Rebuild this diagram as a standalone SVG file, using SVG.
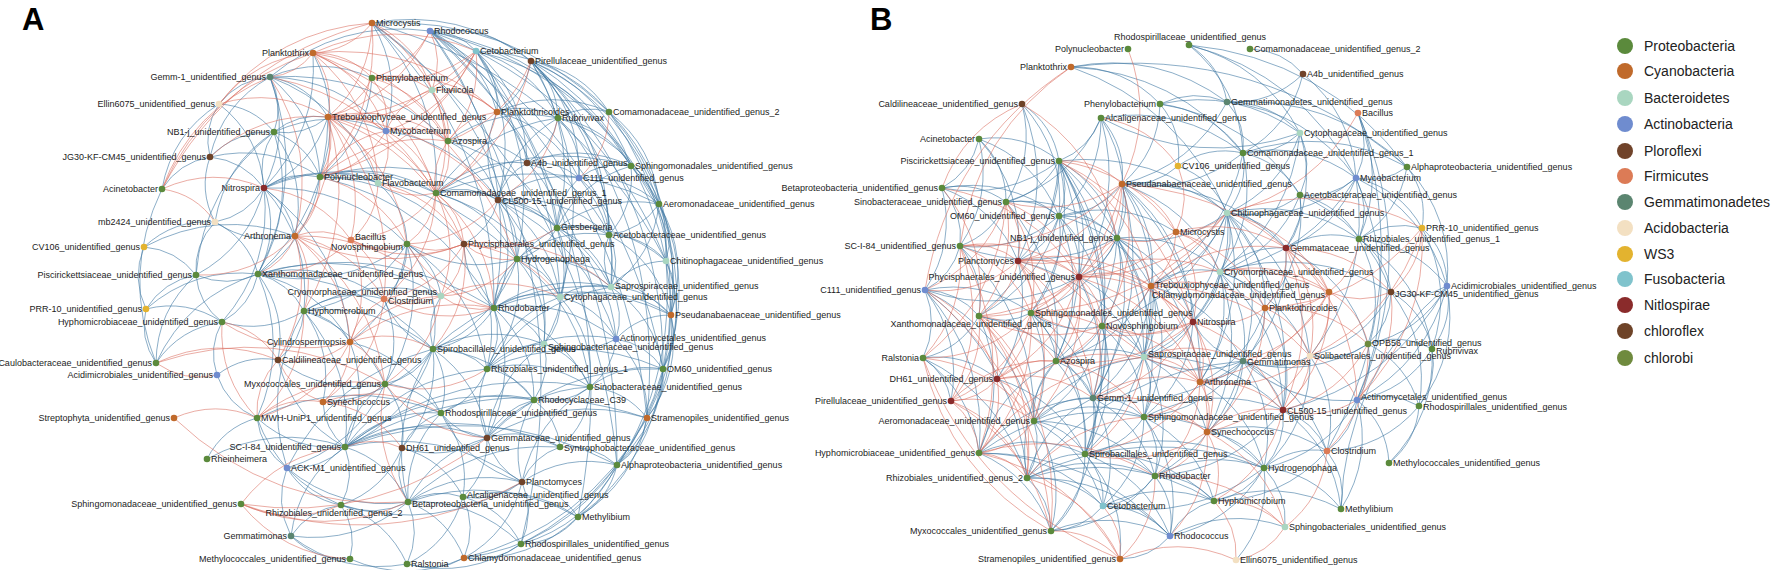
<svg xmlns="http://www.w3.org/2000/svg" width="1772" height="570" viewBox="0 0 1772 570">
<style>
text{font-family:"Liberation Sans",Arial,sans-serif;font-size:9px;fill:#1c1c1c}
.l{text-anchor:end}.m{text-anchor:middle}
.big{font-size:31px;font-weight:bold;fill:#000}
.leg text{font-size:14px;fill:#222}
.b{stroke:#3f78a3;stroke-opacity:.6;stroke-width:1}
.r{stroke:#d9685a;stroke-opacity:.55;stroke-width:1}
.pr{fill:#5b8a3c}.cy{fill:#c06a2b}.ba{fill:#a9d6c0}.ac{fill:#6f8ccf}.pl{fill:#70432a}.fi{fill:#dc7b56}.ge{fill:#5b8570}.aci{fill:#f3e0c2}.ws{fill:#e3b32f}.fu{fill:#80c3cc}.ni{fill:#8a2b2b}.ch{fill:#6e4328}.chb{fill:#6f8a3e}
</style>
<defs><path id="e" d="M0 0Q.5 -.22 1 0" fill="none" vector-effect="non-scaling-stroke"/></defs>
<rect width="1772" height="570" fill="#fff"/>
<text class="big" x="22" y="30">A</text>
<text class="big" x="870" y="30">B</text>
<g id="connectors">
<g id="edges-a-blue" class="b">
<use href="#e" transform="matrix(14 108 -108 14 372 23)"/><use href="#e" transform="matrix(64 170 -170 64 372 23)"/><use href="#e" transform="matrix(237 89 -89 237 372 23)"/><use href="#e" transform="matrix(122 285 -285 122 372 23)"/><use href="#e" transform="matrix(245 442 -442 245 372 23)"/><use href="#e" transform="matrix(145 236 -236 145 372 23)"/><use href="#e" transform="matrix(159 38 -38 159 372 23)"/><use href="#e" transform="matrix(294 238 -238 294 372 23)"/>
<use href="#e" transform="matrix(46 20 -20 46 430 31)"/><use href="#e" transform="matrix(101 30 -30 101 430 31)"/><use href="#e" transform="matrix(67 81 -81 67 430 31)"/><use href="#e" transform="matrix(201 135 -135 201 430 31)"/><use href="#e" transform="matrix(229 173 -173 229 430 31)"/><use href="#e" transform="matrix(236 230 -230 236 430 31)"/><use href="#e" transform="matrix(233 338 -338 233 430 31)"/><use href="#e" transform="matrix(217 387 -387 217 430 31)"/><use href="#e" transform="matrix(127 197 -197 127 430 31)"/><use href="#e" transform="matrix(64 277 -277 64 430 31)"/><use href="#e" transform="matrix(130 266 -266 130 430 31)"/><use href="#e" transform="matrix(187 434 -434 187 430 31)"/><use href="#e" transform="matrix(91 513 -513 91 430 31)"/>
<use href="#e" transform="matrix(160 -46 46 160 270 77)"/>
<use href="#e" transform="matrix(7 124 -124 7 313 53)"/><use href="#e" transform="matrix(-49 135 -135 -49 313 53)"/>
<use href="#e" transform="matrix(21 61 -61 21 476 51)"/><use href="#e" transform="matrix(82 67 -67 82 476 51)"/><use href="#e" transform="matrix(133 61 -61 133 476 51)"/><use href="#e" transform="matrix(51 112 -112 51 476 51)"/><use href="#e" transform="matrix(22 149 -149 22 476 51)"/><use href="#e" transform="matrix(155 115 -115 155 476 51)"/><use href="#e" transform="matrix(41 208 -208 41 476 51)"/><use href="#e" transform="matrix(102 466 -466 102 476 51)"/>
<use href="#e" transform="matrix(78 51 -51 78 531 61)"/><use href="#e" transform="matrix(27 57 -57 27 531 61)"/><use href="#e" transform="matrix(100 105 -105 100 531 61)"/><use href="#e" transform="matrix(128 143 -143 128 531 61)"/><use href="#e" transform="matrix(78 174 -174 78 531 61)"/><use href="#e" transform="matrix(135 200 -200 135 531 61)"/><use href="#e" transform="matrix(-34 51 -51 -34 531 61)"/><use href="#e" transform="matrix(48 117 -117 48 531 61)"/><use href="#e" transform="matrix(26 167 -167 26 531 61)"/><use href="#e" transform="matrix(80 226 -226 80 531 61)"/><use href="#e" transform="matrix(29 236 -236 29 531 61)"/><use href="#e" transform="matrix(116 357 -357 116 531 61)"/><use href="#e" transform="matrix(132 308 -308 132 531 61)"/>
<use href="#e" transform="matrix(4 55 -55 4 270 77)"/><use href="#e" transform="matrix(58 40 -40 58 270 77)"/><use href="#e" transform="matrix(50 100 -100 50 270 77)"/><use href="#e" transform="matrix(-6 111 -111 -6 270 77)"/><use href="#e" transform="matrix(116 54 -54 116 270 77)"/><use href="#e" transform="matrix(102 1 -1 102 270 77)"/><use href="#e" transform="matrix(108 106 -106 108 270 77)"/><use href="#e" transform="matrix(-12 197 -197 -12 270 77)"/><use href="#e" transform="matrix(178 64 -64 178 270 77)"/>
<use href="#e" transform="matrix(51 -27 27 51 219 104)"/><use href="#e" transform="matrix(60 -80 80 60 210 157)"/>
<use href="#e" transform="matrix(-64 71 -71 -64 328 117)"/><use href="#e" transform="matrix(-54 15 -15 -54 328 117)"/><use href="#e" transform="matrix(-70 157 -157 -70 328 117)"/>
<use href="#e" transform="matrix(10 -56 56 10 264 188)"/><use href="#e" transform="matrix(56 -11 11 56 264 188)"/><use href="#e" transform="matrix(-6 86 -86 -6 264 188)"/><use href="#e" transform="matrix(31 48 -48 31 264 188)"/><use href="#e" transform="matrix(40 123 -123 40 264 188)"/><use href="#e" transform="matrix(-42 134 -134 -42 264 188)"/><use href="#e" transform="matrix(-68 87 -87 -68 264 188)"/><use href="#e" transform="matrix(114 -5 5 114 264 188)"/><use href="#e" transform="matrix(172 5 -5 172 264 188)"/><use href="#e" transform="matrix(-49 34 -34 -49 264 188)"/><use href="#e" transform="matrix(86 154 -154 86 264 188)"/><use href="#e" transform="matrix(143 56 -56 143 264 188)"/>
<use href="#e" transform="matrix(54 31 -31 54 210 157)"/>
<use href="#e" transform="matrix(58 6 -6 58 320 177)"/><use href="#e" transform="matrix(116 16 -16 116 320 177)"/><use href="#e" transform="matrix(178 23 -23 178 320 177)"/><use href="#e" transform="matrix(144 67 -67 144 320 177)"/><use href="#e" transform="matrix(-62 97 -97 -62 320 177)"/><use href="#e" transform="matrix(174 131 -131 174 320 177)"/><use href="#e" transform="matrix(197 82 -82 197 320 177)"/>
<use href="#e" transform="matrix(62 7 -7 62 436 193)"/><use href="#e" transform="matrix(91 -30 30 91 436 193)"/><use href="#e" transform="matrix(121 35 -35 121 436 193)"/><use href="#e" transform="matrix(81 66 -66 81 436 193)"/><use href="#e" transform="matrix(195 -27 27 195 436 193)"/><use href="#e" transform="matrix(223 11 -11 223 436 193)"/><use href="#e" transform="matrix(124 104 -104 124 436 193)"/><use href="#e" transform="matrix(122 -75 75 122 436 193)"/>
<use href="#e" transform="matrix(29 -37 37 29 498 200)"/><use href="#e" transform="matrix(81 -22 22 81 498 200)"/><use href="#e" transform="matrix(59 28 -28 59 498 200)"/><use href="#e" transform="matrix(111 35 -35 111 498 200)"/><use href="#e" transform="matrix(19 59 -59 19 498 200)"/><use href="#e" transform="matrix(-34 44 -44 -34 498 200)"/><use href="#e" transform="matrix(113 87 -87 113 498 200)"/><use href="#e" transform="matrix(-4 108 -108 -4 498 200)"/><use href="#e" transform="matrix(62 97 -97 62 498 200)"/><use href="#e" transform="matrix(46 144 -144 46 498 200)"/><use href="#e" transform="matrix(118 139 -139 118 498 200)"/><use href="#e" transform="matrix(60 -82 82 60 498 200)"/><use href="#e" transform="matrix(-1 -88 88 -1 498 200)"/>
<use href="#e" transform="matrix(66 -11 11 66 494 308)"/><use href="#e" transform="matrix(117 -21 21 117 494 308)"/><use href="#e" transform="matrix(50 36 -36 50 494 308)"/><use href="#e" transform="matrix(-7 61 -61 -7 494 308)"/><use href="#e" transform="matrix(-61 41 -41 -61 494 308)"/><use href="#e" transform="matrix(23 -49 49 23 494 308)"/><use href="#e" transform="matrix(-30 -64 64 -30 494 308)"/><use href="#e" transform="matrix(122 31 -31 122 494 308)"/><use href="#e" transform="matrix(177 7 -7 177 494 308)"/><use href="#e" transform="matrix(40 92 -92 40 494 308)"/><use href="#e" transform="matrix(96 79 -79 96 494 308)"/><use href="#e" transform="matrix(-7 130 -130 -7 494 308)"/><use href="#e" transform="matrix(63 -80 80 63 494 308)"/>
<use href="#e" transform="matrix(52 7 -7 52 557 228)"/><use href="#e" transform="matrix(54 59 -59 54 557 228)"/><use href="#e" transform="matrix(3 69 -69 3 557 228)"/><use href="#e" transform="matrix(102 -24 24 102 557 228)"/><use href="#e" transform="matrix(74 -62 62 74 557 228)"/><use href="#e" transform="matrix(22 -50 50 22 557 228)"/><use href="#e" transform="matrix(109 33 -33 109 557 228)"/><use href="#e" transform="matrix(-40 31 -31 -40 557 228)"/><use href="#e" transform="matrix(59 111 -111 59 557 228)"/><use href="#e" transform="matrix(-13 116 -116 -13 557 228)"/>
<use href="#e" transform="matrix(43 38 -38 43 517 259)"/><use href="#e" transform="matrix(94 28 -28 94 517 259)"/><use href="#e" transform="matrix(27 85 -85 27 517 259)"/><use href="#e" transform="matrix(-30 110 -110 -30 517 259)"/><use href="#e" transform="matrix(-84 90 -90 -84 517 259)"/><use href="#e" transform="matrix(92 -24 24 92 517 259)"/><use href="#e" transform="matrix(-110 -15 15 -110 517 259)"/><use href="#e" transform="matrix(154 56 -56 154 517 259)"/><use href="#e" transform="matrix(73 128 -128 73 517 259)"/>
<use href="#e" transform="matrix(23 125 -125 23 464 244)"/>
<use href="#e" transform="matrix(34 52 -52 34 407 244)"/><use href="#e" transform="matrix(-23 55 -55 -23 407 244)"/><use href="#e" transform="matrix(26 105 -105 26 407 244)"/><use href="#e" transform="matrix(-149 30 -30 -149 407 244)"/><use href="#e" transform="matrix(-57 98 -98 -57 407 244)"/><use href="#e" transform="matrix(-103 67 -67 -103 407 244)"/><use href="#e" transform="matrix(80 125 -125 80 407 244)"/><use href="#e" transform="matrix(-22 140 -140 -22 407 244)"/>
<use href="#e" transform="matrix(-80 -14 14 -80 295 236)"/>
<use href="#e" transform="matrix(46 37 -37 46 258 274)"/><use href="#e" transform="matrix(-36 48 -48 -36 258 274)"/><use href="#e" transform="matrix(-62 1 -1 -62 258 274)"/><use href="#e" transform="matrix(92 68 -68 92 258 274)"/><use href="#e" transform="matrix(20 86 -86 20 258 274)"/><use href="#e" transform="matrix(126 25 -25 126 258 274)"/><use href="#e" transform="matrix(183 22 -22 183 258 274)"/><use href="#e" transform="matrix(-1 144 -144 -1 258 274)"/><use href="#e" transform="matrix(236 34 -34 236 258 274)"/><use href="#e" transform="matrix(175 75 -75 175 258 274)"/>
<use href="#e" transform="matrix(46 31 -31 46 304 311)"/><use href="#e" transform="matrix(-26 49 -49 -26 304 311)"/><use href="#e" transform="matrix(80 -12 12 80 304 311)"/><use href="#e" transform="matrix(137 -15 15 137 304 311)"/><use href="#e" transform="matrix(81 73 -73 81 304 311)"/><use href="#e" transform="matrix(19 91 -91 19 304 311)"/><use href="#e" transform="matrix(129 38 -38 129 304 311)"/><use href="#e" transform="matrix(-82 11 -11 -82 304 311)"/><use href="#e" transform="matrix(41 136 -136 41 304 311)"/>
<use href="#e" transform="matrix(91 71 -71 91 350 342)"/><use href="#e" transform="matrix(-5 105 -105 -5 350 342)"/>
<use href="#e" transform="matrix(54 20 -20 54 433 349)"/><use href="#e" transform="matrix(8 64 -64 8 433 349)"/><use href="#e" transform="matrix(-48 35 -35 -48 433 349)"/><use href="#e" transform="matrix(8 -53 53 8 433 349)"/><use href="#e" transform="matrix(111 -5 5 111 433 349)"/><use href="#e" transform="matrix(54 89 -89 54 433 349)"/><use href="#e" transform="matrix(101 51 -51 101 433 349)"/><use href="#e" transform="matrix(-49 -50 50 -49 433 349)"/><use href="#e" transform="matrix(-110 53 -53 -110 433 349)"/><use href="#e" transform="matrix(-88 98 -98 -88 433 349)"/><use href="#e" transform="matrix(-31 99 -99 -31 433 349)"/><use href="#e" transform="matrix(178 -62 62 178 433 349)"/>
<use href="#e" transform="matrix(-22 -45 45 -22 345 447)"/><use href="#e" transform="matrix(40 -63 63 40 345 447)"/><use href="#e" transform="matrix(96 -34 34 96 345 447)"/><use href="#e" transform="matrix(142 -9 9 142 345 447)"/><use href="#e" transform="matrix(215 0 0 215 345 447)"/><use href="#e" transform="matrix(272 18 -18 272 345 447)"/><use href="#e" transform="matrix(189 -47 47 189 345 447)"/><use href="#e" transform="matrix(177 35 -35 177 345 447)"/><use href="#e" transform="matrix(63 55 -55 63 345 447)"/><use href="#e" transform="matrix(-4 58 -58 -4 345 447)"/><use href="#e" transform="matrix(-58 21 -21 -58 345 447)"/><use href="#e" transform="matrix(-88 -29 29 -88 345 447)"/><use href="#e" transform="matrix(302 -29 29 302 345 447)"/><use href="#e" transform="matrix(245 -60 60 245 345 447)"/><use href="#e" transform="matrix(-67 -87 87 -67 345 447)"/><use href="#e" transform="matrix(142 -78 78 142 345 447)"/>
<use href="#e" transform="matrix(55 -5 5 55 408 502)"/><use href="#e" transform="matrix(114 -20 20 114 408 502)"/><use href="#e" transform="matrix(79 -64 64 79 408 502)"/><use href="#e" transform="matrix(-6 -54 54 -6 408 502)"/><use href="#e" transform="matrix(33 -89 89 33 408 502)"/><use href="#e" transform="matrix(-67 3 -3 -67 408 502)"/><use href="#e" transform="matrix(-1 62 -62 -1 408 502)"/><use href="#e" transform="matrix(56 56 -56 56 408 502)"/><use href="#e" transform="matrix(170 15 -15 170 408 502)"/><use href="#e" transform="matrix(113 42 -42 113 408 502)"/><use href="#e" transform="matrix(-117 34 -34 -117 408 502)"/><use href="#e" transform="matrix(152 -55 55 152 408 502)"/><use href="#e" transform="matrix(25 -153 153 25 408 502)"/><use href="#e" transform="matrix(-121 -34 34 -121 408 502)"/>
<use href="#e" transform="matrix(-35 -44 44 -35 522 482)"/><use href="#e" transform="matrix(38 -35 35 38 522 482)"/><use href="#e" transform="matrix(-59 15 -15 -59 522 482)"/><use href="#e" transform="matrix(56 35 -35 56 522 482)"/><use href="#e" transform="matrix(-1 62 -62 -1 522 482)"/><use href="#e" transform="matrix(95 -17 17 95 522 482)"/><use href="#e" transform="matrix(12 -82 82 12 522 482)"/><use href="#e" transform="matrix(-81 -69 69 -81 522 482)"/><use href="#e" transform="matrix(-58 76 -76 -58 522 482)"/><use href="#e" transform="matrix(68 -95 95 68 522 482)"/><use href="#e" transform="matrix(-181 23 -23 -181 522 482)"/>
<use href="#e" transform="matrix(47 -38 38 47 487 438)"/><use href="#e" transform="matrix(73 9 -9 73 487 438)"/><use href="#e" transform="matrix(-46 -25 25 -46 487 438)"/><use href="#e" transform="matrix(-85 10 -10 -85 487 438)"/><use href="#e" transform="matrix(0 -69 69 0 487 438)"/><use href="#e" transform="matrix(-24 59 -59 -24 487 438)"/><use href="#e" transform="matrix(103 -51 51 103 487 438)"/><use href="#e" transform="matrix(160 -20 20 160 487 438)"/><use href="#e" transform="matrix(176 -69 69 176 487 438)"/><use href="#e" transform="matrix(57 -94 94 57 487 438)"/>
<use href="#e" transform="matrix(47 31 -31 47 487 369)"/><use href="#e" transform="matrix(103 18 -18 103 487 369)"/><use href="#e" transform="matrix(57 -25 25 57 487 369)"/><use href="#e" transform="matrix(129 -30 30 129 487 369)"/><use href="#e" transform="matrix(73 -72 72 73 487 369)"/><use href="#e" transform="matrix(-46 44 -44 -46 487 369)"/><use href="#e" transform="matrix(176 0 0 176 487 369)"/><use href="#e" transform="matrix(124 -82 82 124 487 369)"/>
<use href="#e" transform="matrix(51 -10 10 51 560 297)"/><use href="#e" transform="matrix(56 42 -42 56 560 297)"/><use href="#e" transform="matrix(-16 47 -47 -16 560 297)"/><use href="#e" transform="matrix(111 18 -18 111 560 297)"/><use href="#e" transform="matrix(30 90 -90 30 560 297)"/>
<use href="#e" transform="matrix(55 -26 26 55 611 287)"/><use href="#e" transform="matrix(5 52 -52 5 611 287)"/><use href="#e" transform="matrix(60 28 -28 60 611 287)"/><use href="#e" transform="matrix(52 82 -82 52 611 287)"/><use href="#e" transform="matrix(-2 -52 52 -2 611 287)"/>
<use href="#e" transform="matrix(47 30 -30 47 616 339)"/><use href="#e" transform="matrix(-26 48 -48 -26 616 339)"/><use href="#e" transform="matrix(31 79 -79 31 616 339)"/><use href="#e" transform="matrix(-72 5 -5 -72 616 339)"/><use href="#e" transform="matrix(55 -24 24 55 616 339)"/>
<use href="#e" transform="matrix(46 43 -43 46 544 344)"/><use href="#e" transform="matrix(-10 56 -56 -10 544 344)"/>
<use href="#e" transform="matrix(73 -18 18 73 590 387)"/><use href="#e" transform="matrix(57 31 -31 57 590 387)"/><use href="#e" transform="matrix(-30 60 -60 -30 590 387)"/><use href="#e" transform="matrix(-56 13 -13 -56 590 387)"/>
<use href="#e" transform="matrix(26 47 -47 26 534 400)"/><use href="#e" transform="matrix(57 18 -18 57 560 447)"/>
<use href="#e" transform="matrix(-16 49 -49 -16 663 369)"/><use href="#e" transform="matrix(-46 96 -96 -46 663 369)"/><use href="#e" transform="matrix(-85 148 -148 -85 663 369)"/><use href="#e" transform="matrix(-142 175 -175 -142 663 369)"/>
<use href="#e" transform="matrix(-30 47 -47 -30 647 418)"/><use href="#e" transform="matrix(-69 99 -99 -69 647 418)"/><use href="#e" transform="matrix(-183 140 -140 -183 647 418)"/>
<use href="#e" transform="matrix(57 149 -149 57 609 112)"/><use href="#e" transform="matrix(50 92 -92 50 609 112)"/><use href="#e" transform="matrix(62 203 -203 62 609 112)"/><use href="#e" transform="matrix(54 257 -257 54 609 112)"/>
<use href="#e" transform="matrix(28 38 -38 28 631 166)"/><use href="#e" transform="matrix(35 95 -95 35 631 166)"/><use href="#e" transform="matrix(40 149 -149 40 631 166)"/><use href="#e" transform="matrix(-22 69 -69 -22 631 166)"/>
<use href="#e" transform="matrix(7 57 -57 7 659 204)"/><use href="#e" transform="matrix(12 111 -111 12 659 204)"/><use href="#e" transform="matrix(4 165 -165 4 659 204)"/><use href="#e" transform="matrix(-12 214 -214 -12 659 204)"/><use href="#e" transform="matrix(-50 31 -31 -50 659 204)"/><use href="#e" transform="matrix(-48 83 -83 -48 659 204)"/>
<use href="#e" transform="matrix(5 54 -54 5 666 261)"/><use href="#e" transform="matrix(-3 108 -108 -3 666 261)"/><use href="#e" transform="matrix(-49 204 -204 -49 666 261)"/><use href="#e" transform="matrix(-88 256 -256 -88 666 261)"/>
<use href="#e" transform="matrix(-8 54 -54 -8 671 315)"/><use href="#e" transform="matrix(-54 150 -150 -54 671 315)"/><use href="#e" transform="matrix(-24 103 -103 -24 671 315)"/>
<use href="#e" transform="matrix(-39 52 -52 -39 617 465)"/><use href="#e" transform="matrix(-96 79 -79 -96 617 465)"/><use href="#e" transform="matrix(-153 93 -93 -153 617 465)"/>
<use href="#e" transform="matrix(-57 27 -27 -57 578 517)"/><use href="#e" transform="matrix(-114 41 -41 -114 578 517)"/>
<use href="#e" transform="matrix(-114 20 -20 -114 521 544)"/><use href="#e" transform="matrix(-57 14 -14 -57 521 544)"/>
<use href="#e" transform="matrix(-57 6 -6 -57 464 558)"/><use href="#e" transform="matrix(-114 1 -1 -114 464 558)"/>
<use href="#e" transform="matrix(115 20 -20 115 463 497)"/><use href="#e" transform="matrix(58 47 -47 58 463 497)"/><use href="#e" transform="matrix(1 61 -61 1 463 497)"/><use href="#e" transform="matrix(-56 67 -67 -56 463 497)"/>
<use href="#e" transform="matrix(-116 -28 28 -116 407 564)"/><use href="#e" transform="matrix(-59 -23 23 -59 350 559)"/>
<use href="#e" transform="matrix(-4 -68 68 -4 291 536)"/><use href="#e" transform="matrix(54 -89 89 54 291 536)"/><use href="#e" transform="matrix(50 -31 31 50 291 536)"/>
<use href="#e" transform="matrix(-54 -37 37 -54 341 505)"/><use href="#e" transform="matrix(-84 -87 87 -84 341 505)"/><use href="#e" transform="matrix(9 54 -54 9 341 505)"/><use href="#e" transform="matrix(66 59 -59 66 341 505)"/>
<use href="#e" transform="matrix(50 -41 41 50 207 459)"/><use href="#e" transform="matrix(138 -12 12 138 207 459)"/>
<use href="#e" transform="matrix(-30 -50 50 -30 287 468)"/><use href="#e" transform="matrix(146 -119 119 146 287 468)"/><use href="#e" transform="matrix(17 -157 157 17 287 468)"/>
<use href="#e" transform="matrix(-40 -43 43 -40 257 418)"/><use href="#e" transform="matrix(184 -5 5 184 257 418)"/>
<use href="#e" transform="matrix(5 -53 53 5 217 375)"/><use href="#e" transform="matrix(61 -15 15 61 217 375)"/>
<use href="#e" transform="matrix(66 -41 41 66 156 363)"/><use href="#e" transform="matrix(-10 -54 54 -10 156 363)"/><use href="#e" transform="matrix(40 -88 88 40 156 363)"/><use href="#e" transform="matrix(6 -174 174 6 156 363)"/><use href="#e" transform="matrix(102 -89 89 102 156 363)"/>
<use href="#e" transform="matrix(50 -34 34 50 146 309)"/><use href="#e" transform="matrix(76 13 -13 76 146 309)"/><use href="#e" transform="matrix(112 -35 35 112 146 309)"/><use href="#e" transform="matrix(-2 -62 62 -2 146 309)"/>
<use href="#e" transform="matrix(-26 -47 47 -26 222 322)"/>
<use href="#e" transform="matrix(52 28 -28 52 144 247)"/><use href="#e" transform="matrix(71 -25 25 71 144 247)"/><use href="#e" transform="matrix(151 -11 11 151 144 247)"/>
<use href="#e" transform="matrix(19 -53 53 19 196 275)"/><use href="#e" transform="matrix(78 -143 143 78 196 275)"/>
<use href="#e" transform="matrix(48 -32 32 48 162 189)"/><use href="#e" transform="matrix(57 -85 85 57 162 189)"/>
<use href="#e" transform="matrix(-5 -65 65 -5 215 222)"/><use href="#e" transform="matrix(59 -90 90 59 215 222)"/><use href="#e" transform="matrix(43 52 -52 43 215 222)"/>
<use href="#e" transform="matrix(64 -25 25 64 210 157)"/><use href="#e" transform="matrix(9 -53 53 9 210 157)"/><use href="#e" transform="matrix(110 20 -20 110 210 157)"/>
<use href="#e" transform="matrix(54 -15 15 54 274 132)"/><use href="#e" transform="matrix(46 45 -45 46 274 132)"/><use href="#e" transform="matrix(112 -1 1 112 274 132)"/><use href="#e" transform="matrix(-16 142 -142 -16 274 132)"/><use href="#e" transform="matrix(21 104 -104 21 274 132)"/>
<use href="#e" transform="matrix(55 28 -28 55 219 104)"/><use href="#e" transform="matrix(45 84 -84 45 219 104)"/>
<use href="#e" transform="matrix(-52 99 -99 -52 372 78)"/><use href="#e" transform="matrix(112 69 -69 112 386 131)"/>
<use href="#e" transform="matrix(79 22 -22 79 448 141)"/><use href="#e" transform="matrix(109 87 -87 109 448 141)"/><use href="#e" transform="matrix(50 59 -59 50 448 141)"/><use href="#e" transform="matrix(110 -23 23 110 448 141)"/>
<use href="#e" transform="matrix(61 6 -6 61 497 112)"/><use href="#e" transform="matrix(30 51 -51 30 497 112)"/><use href="#e" transform="matrix(112 0 0 112 497 112)"/><use href="#e" transform="matrix(82 66 -66 82 497 112)"/>
<use href="#e" transform="matrix(51 -6 6 51 558 118)"/><use href="#e" transform="matrix(-31 45 -45 -31 558 118)"/><use href="#e" transform="matrix(73 48 -48 73 558 118)"/><use href="#e" transform="matrix(21 60 -60 21 558 118)"/><use href="#e" transform="matrix(101 86 -86 101 558 118)"/><use href="#e" transform="matrix(51 117 -117 51 558 118)"/>
<use href="#e" transform="matrix(104 3 -3 104 527 163)"/><use href="#e" transform="matrix(52 15 -15 52 527 163)"/><use href="#e" transform="matrix(30 65 -65 30 527 163)"/><use href="#e" transform="matrix(82 72 -72 82 527 163)"/>
<use href="#e" transform="matrix(52 -12 12 52 579 178)"/><use href="#e" transform="matrix(80 26 -26 80 579 178)"/><use href="#e" transform="matrix(30 57 -57 30 579 178)"/><use href="#e" transform="matrix(32 109 -109 32 579 178)"/>
<use href="#e" transform="matrix(57 26 -26 57 609 235)"/><use href="#e" transform="matrix(2 52 -52 2 609 235)"/><use href="#e" transform="matrix(62 80 -80 62 609 235)"/>
<use href="#e" transform="matrix(29 61 -61 29 378 183)"/><use href="#e" transform="matrix(1 85 -85 1 384 299)"/>
<use href="#e" transform="matrix(56 29 -29 56 385 384)"/><use href="#e" transform="matrix(17 64 -64 17 385 384)"/><use href="#e" transform="matrix(-107 -24 24 -107 385 384)"/><use href="#e" transform="matrix(-98 84 -84 -98 385 384)"/>
<use href="#e" transform="matrix(39 -35 35 39 402 448)"/><use href="#e" transform="matrix(61 49 -49 61 402 448)"/><use href="#e" transform="matrix(-61 57 -57 -61 402 448)"/>
<use href="#e" transform="matrix(93 -13 13 93 441 413)"/><use href="#e" transform="matrix(22 84 -84 22 441 413)"/>
</g>
<g id="edges-a-red" class="r">
<use href="#e" transform="matrix(-59 30 -30 -59 372 23)"/><use href="#e" transform="matrix(-44 94 -94 -44 372 23)"/><use href="#e" transform="matrix(60 67 -67 60 372 23)"/><use href="#e" transform="matrix(76 118 -118 76 372 23)"/><use href="#e" transform="matrix(-52 154 -154 -52 372 23)"/>
<use href="#e" transform="matrix(153 -81 81 153 219 104)"/><use href="#e" transform="matrix(94 -51 51 94 219 104)"/><use href="#e" transform="matrix(109 13 -13 109 219 104)"/>
<use href="#e" transform="matrix(210 -166 166 210 162 189)"/><use href="#e" transform="matrix(151 -136 136 151 162 189)"/><use href="#e" transform="matrix(53 33 -33 53 162 189)"/><use href="#e" transform="matrix(102 -1 1 102 162 189)"/><use href="#e" transform="matrix(108 -112 112 108 162 189)"/>
<use href="#e" transform="matrix(2 59 -59 2 430 31)"/><use href="#e" transform="matrix(-102 86 -86 -102 430 31)"/><use href="#e" transform="matrix(-58 47 -47 -58 430 31)"/>
<use href="#e" transform="matrix(15 64 -64 15 313 53)"/><use href="#e" transform="matrix(59 25 -25 59 313 53)"/><use href="#e" transform="matrix(73 78 -78 73 313 53)"/><use href="#e" transform="matrix(135 88 -88 135 313 53)"/><use href="#e" transform="matrix(184 59 -59 184 313 53)"/><use href="#e" transform="matrix(123 140 -140 123 313 53)"/><use href="#e" transform="matrix(-43 24 -24 -43 313 53)"/><use href="#e" transform="matrix(65 130 -130 65 313 53)"/><use href="#e" transform="matrix(204 206 -206 204 313 53)"/><use href="#e" transform="matrix(163 -2 2 163 313 53)"/>
<use href="#e" transform="matrix(-44 39 -39 -44 476 51)"/><use href="#e" transform="matrix(-28 90 -90 -28 476 51)"/><use href="#e" transform="matrix(-90 80 -80 -90 476 51)"/><use href="#e" transform="matrix(-148 66 -66 -148 476 51)"/><use href="#e" transform="matrix(-104 27 -27 -104 476 51)"/><use href="#e" transform="matrix(-156 126 -126 -156 476 51)"/>
<use href="#e" transform="matrix(-83 80 -80 -83 531 61)"/><use href="#e" transform="matrix(-95 132 -132 -95 531 61)"/>
<use href="#e" transform="matrix(166 116 -116 166 270 77)"/><use href="#e" transform="matrix(25 159 -159 25 270 77)"/>
<use href="#e" transform="matrix(58 14 -14 58 328 117)"/><use href="#e" transform="matrix(-8 60 -60 -8 328 117)"/><use href="#e" transform="matrix(50 66 -66 50 328 117)"/><use href="#e" transform="matrix(120 24 -24 120 328 117)"/><use href="#e" transform="matrix(108 76 -76 108 328 117)"/><use href="#e" transform="matrix(79 127 -127 79 328 117)"/><use href="#e" transform="matrix(23 123 -123 23 328 117)"/><use href="#e" transform="matrix(-33 119 -119 -33 328 117)"/><use href="#e" transform="matrix(170 83 -83 170 328 117)"/><use href="#e" transform="matrix(136 127 -127 136 328 117)"/><use href="#e" transform="matrix(-24 194 -194 -24 328 117)"/><use href="#e" transform="matrix(56 182 -182 56 328 117)"/>
<use href="#e" transform="matrix(87 52 -52 87 264 188)"/>
<use href="#e" transform="matrix(66 -46 46 66 320 177)"/><use href="#e" transform="matrix(128 -36 36 128 320 177)"/><use href="#e" transform="matrix(87 67 -67 87 320 177)"/><use href="#e" transform="matrix(-25 59 -59 -25 320 177)"/>
<use href="#e" transform="matrix(28 51 -51 28 436 193)"/><use href="#e" transform="matrix(-29 51 -51 -29 436 193)"/><use href="#e" transform="matrix(-85 47 -47 -85 436 193)"/><use href="#e" transform="matrix(-58 -10 10 -58 436 193)"/><use href="#e" transform="matrix(58 115 -115 58 436 193)"/><use href="#e" transform="matrix(5 103 -103 5 436 193)"/><use href="#e" transform="matrix(-52 106 -106 -52 436 193)"/><use href="#e" transform="matrix(12 -52 52 12 436 193)"/>
<use href="#e" transform="matrix(-91 44 -44 -91 498 200)"/>
<use href="#e" transform="matrix(-53 -12 12 -53 494 308)"/><use href="#e" transform="matrix(-110 -9 9 -110 494 308)"/><use href="#e" transform="matrix(-87 -64 64 -87 494 308)"/>
<use href="#e" transform="matrix(-93 16 -16 -93 557 228)"/>
<use href="#e" transform="matrix(-53 -15 15 -53 517 259)"/><use href="#e" transform="matrix(-76 37 -37 -76 517 259)"/>
<use href="#e" transform="matrix(-57 0 0 -57 464 244)"/><use href="#e" transform="matrix(-23 52 -52 -23 464 244)"/><use href="#e" transform="matrix(-80 55 -55 -80 464 244)"/><use href="#e" transform="matrix(96 53 -53 96 464 244)"/><use href="#e" transform="matrix(-31 105 -105 -31 464 244)"/><use href="#e" transform="matrix(147 43 -43 147 464 244)"/><use href="#e" transform="matrix(-113 -4 4 -113 464 244)"/><use href="#e" transform="matrix(-169 -8 8 -169 464 244)"/>
<use href="#e" transform="matrix(-56 -4 4 -56 407 244)"/>
<use href="#e" transform="matrix(56 4 -4 56 295 236)"/><use href="#e" transform="matrix(-37 38 -38 -37 295 236)"/><use href="#e" transform="matrix(9 75 -75 9 295 236)"/><use href="#e" transform="matrix(55 106 -106 55 295 236)"/><use href="#e" transform="matrix(89 63 -63 89 295 236)"/><use href="#e" transform="matrix(146 60 -60 146 295 236)"/><use href="#e" transform="matrix(-99 39 -39 -99 295 236)"/><use href="#e" transform="matrix(-17 124 -124 -17 295 236)"/><use href="#e" transform="matrix(90 148 -148 90 295 236)"/>
<use href="#e" transform="matrix(-47 107 -107 -47 304 311)"/>
<use href="#e" transform="matrix(-72 18 -18 -72 350 342)"/><use href="#e" transform="matrix(35 42 -42 35 350 342)"/><use href="#e" transform="matrix(-27 60 -60 -27 350 342)"/><use href="#e" transform="matrix(34 -43 43 34 350 342)"/><use href="#e" transform="matrix(83 7 -7 83 350 342)"/><use href="#e" transform="matrix(-93 76 -76 -93 350 342)"/><use href="#e" transform="matrix(91 -46 46 91 350 342)"/><use href="#e" transform="matrix(-128 -20 20 -128 350 342)"/><use href="#e" transform="matrix(144 -34 34 144 350 342)"/>
<use href="#e" transform="matrix(57 1 -1 57 345 447)"/>
<use href="#e" transform="matrix(-23 -118 118 -23 408 502)"/><use href="#e" transform="matrix(-167 2 -2 -167 408 502)"/><use href="#e" transform="matrix(-234 -84 84 -234 408 502)"/>
<use href="#e" transform="matrix(-102 -54 54 -102 487 438)"/><use href="#e" transform="matrix(-246 66 -66 -246 487 438)"/>
<use href="#e" transform="matrix(-102 15 -15 -102 487 369)"/><use href="#e" transform="matrix(-109 -55 55 -109 350 559)"/><use href="#e" transform="matrix(-281 22 -22 -281 522 482)"/><use href="#e" transform="matrix(-100 -1 1 -100 341 505)"/><use href="#e" transform="matrix(104 -57 57 104 241 504)"/><use href="#e" transform="matrix(83 0 0 83 174 418)"/>
<use href="#e" transform="matrix(66 -16 16 66 257 418)"/><use href="#e" transform="matrix(21 -58 58 21 257 418)"/><use href="#e" transform="matrix(128 -34 34 128 257 418)"/><use href="#e" transform="matrix(-35 -96 96 -35 257 418)"/>
<use href="#e" transform="matrix(-61 -12 12 -61 217 375)"/><use href="#e" transform="matrix(122 -3 3 122 156 363)"/><use href="#e" transform="matrix(229 21 -21 229 156 363)"/><use href="#e" transform="matrix(56 38 -38 56 222 322)"/><use href="#e" transform="matrix(118 -40 40 118 210 157)"/>
<use href="#e" transform="matrix(62 10 -10 62 386 131)"/><use href="#e" transform="matrix(-8 52 -52 -8 386 131)"/><use href="#e" transform="matrix(46 -41 41 46 386 131)"/><use href="#e" transform="matrix(50 62 -62 50 386 131)"/><use href="#e" transform="matrix(-66 46 -46 -66 386 131)"/>
<use href="#e" transform="matrix(60 12 -12 60 372 78)"/><use href="#e" transform="matrix(14 53 -53 14 372 78)"/><use href="#e" transform="matrix(76 63 -63 76 372 78)"/><use href="#e" transform="matrix(-44 39 -39 -44 372 78)"/><use href="#e" transform="matrix(125 34 -34 125 372 78)"/>
<use href="#e" transform="matrix(16 51 -51 16 432 90)"/><use href="#e" transform="matrix(65 22 -22 65 432 90)"/><use href="#e" transform="matrix(4 103 -103 4 432 90)"/><use href="#e" transform="matrix(-104 27 -27 -104 432 90)"/>
<use href="#e" transform="matrix(-12 52 -52 -12 448 141)"/><use href="#e" transform="matrix(49 -29 29 49 448 141)"/><use href="#e" transform="matrix(-61 81 -81 -61 497 112)"/>
<use href="#e" transform="matrix(-27 57 -57 -27 378 183)"/><use href="#e" transform="matrix(86 61 -61 86 378 183)"/>
<use href="#e" transform="matrix(33 59 -59 33 351 240)"/><use href="#e" transform="matrix(-1 102 -102 -1 351 240)"/><use href="#e" transform="matrix(-93 34 -34 -93 351 240)"/>
<use href="#e" transform="matrix(-57 3 -3 -57 441 296)"/><use href="#e" transform="matrix(119 1 -1 119 441 296)"/><use href="#e" transform="matrix(-56 88 -88 -56 441 296)"/>
<use href="#e" transform="matrix(-61 103 -103 -61 384 299)"/><use href="#e" transform="matrix(-62 18 -18 -62 385 384)"/>
<use href="#e" transform="matrix(-45 -42 42 -45 323 402)"/><use href="#e" transform="matrix(79 46 -46 79 323 402)"/><use href="#e" transform="matrix(118 11 -11 118 323 402)"/>
<use href="#e" transform="matrix(-60 82 -82 -60 558 118)"/><use href="#e" transform="matrix(-30 66 -66 -30 609 112)"/>
</g>
<g id="edges-b-blue" class="b">
<use href="#e" transform="matrix(38 57 -57 38 1189 45)"/><use href="#e" transform="matrix(54 108 -108 54 1189 45)"/><use href="#e" transform="matrix(111 88 -88 111 1189 45)"/><use href="#e" transform="matrix(218 122 -122 218 1189 45)"/><use href="#e" transform="matrix(167 133 -133 167 1189 45)"/>
<use href="#e" transform="matrix(53 25 -25 53 1250 49)"/>
<use href="#e" transform="matrix(-76 28 -28 -76 1303 74)"/><use href="#e" transform="matrix(-60 79 -79 -60 1303 74)"/><use href="#e" transform="matrix(53 104 -104 53 1303 74)"/>
<use href="#e" transform="matrix(89 37 -37 89 1071 67)"/><use href="#e" transform="matrix(156 35 -35 156 1071 67)"/><use href="#e" transform="matrix(172 86 -86 172 1071 67)"/><use href="#e" transform="matrix(336 100 -100 336 1071 67)"/><use href="#e" transform="matrix(156 146 -146 156 1071 67)"/>
<use href="#e" transform="matrix(37 57 -57 37 1022 104)"/><use href="#e" transform="matrix(-16 98 -98 -16 1022 104)"/><use href="#e" transform="matrix(37 112 -112 37 1022 104)"/><use href="#e" transform="matrix(-4 157 -157 -4 1022 104)"/>
<use href="#e" transform="matrix(67 -2 2 67 1160 104)"/><use href="#e" transform="matrix(83 49 -49 83 1160 104)"/><use href="#e" transform="matrix(18 62 -62 18 1160 104)"/><use href="#e" transform="matrix(140 29 -29 140 1160 104)"/><use href="#e" transform="matrix(-38 80 -80 -38 1160 104)"/><use href="#e" transform="matrix(140 91 -91 140 1160 104)"/>
<use href="#e" transform="matrix(16 51 -51 16 1227 102)"/><use href="#e" transform="matrix(180 65 -65 180 1227 102)"/><use href="#e" transform="matrix(129 76 -76 129 1227 102)"/><use href="#e" transform="matrix(73 31 -31 73 1227 102)"/><use href="#e" transform="matrix(-105 82 -82 -105 1227 102)"/>
<use href="#e" transform="matrix(-2 65 -65 -2 1358 113)"/><use href="#e" transform="matrix(-31 338 -338 -31 1358 113)"/><use href="#e" transform="matrix(1 126 -126 1 1358 113)"/><use href="#e" transform="matrix(-1 287 -287 -1 1358 113)"/>
<use href="#e" transform="matrix(-57 20 -20 -57 1300 133)"/><use href="#e" transform="matrix(-199 -15 15 -199 1300 133)"/><use href="#e" transform="matrix(0 62 -62 0 1300 133)"/><use href="#e" transform="matrix(-73 80 -80 -73 1300 133)"/><use href="#e" transform="matrix(-80 139 -139 -80 1300 133)"/><use href="#e" transform="matrix(-14 115 -115 -14 1300 133)"/>
<use href="#e" transform="matrix(-42 43 -43 -42 1101 118)"/><use href="#e" transform="matrix(21 66 -66 21 1101 118)"/><use href="#e" transform="matrix(16 120 -120 16 1101 118)"/><use href="#e" transform="matrix(-42 98 -98 -42 1101 118)"/><use href="#e" transform="matrix(142 35 -35 142 1101 118)"/><use href="#e" transform="matrix(-95 84 -84 -95 1101 118)"/><use href="#e" transform="matrix(-22 159 -159 -22 1101 118)"/>
<use href="#e" transform="matrix(80 22 -22 80 979 139)"/><use href="#e" transform="matrix(-37 49 -49 -37 979 139)"/><use href="#e" transform="matrix(27 63 -63 27 979 139)"/><use href="#e" transform="matrix(80 77 -77 80 979 139)"/><use href="#e" transform="matrix(-19 107 -107 -19 979 139)"/><use href="#e" transform="matrix(39 122 -122 39 979 139)"/>
<use href="#e" transform="matrix(0 55 -55 0 1059 161)"/><use href="#e" transform="matrix(58 77 -77 58 1059 161)"/><use href="#e" transform="matrix(-53 41 -41 -53 1059 161)"/><use href="#e" transform="matrix(-117 27 -27 -117 1059 161)"/><use href="#e" transform="matrix(-41 100 -100 -41 1059 161)"/><use href="#e" transform="matrix(20 116 -116 20 1059 161)"/><use href="#e" transform="matrix(-28 152 -152 -28 1059 161)"/><use href="#e" transform="matrix(-80 155 -155 -80 1059 161)"/><use href="#e" transform="matrix(43 165 -165 43 1059 161)"/><use href="#e" transform="matrix(-3 200 -200 -3 1059 161)"/><use href="#e" transform="matrix(34 237 -237 34 1059 161)"/><use href="#e" transform="matrix(85 196 -196 85 1059 161)"/><use href="#e" transform="matrix(26 293 -293 26 1059 161)"/><use href="#e" transform="matrix(168 52 -52 168 1059 161)"/>
<use href="#e" transform="matrix(64 14 -14 64 942 188)"/><use href="#e" transform="matrix(18 58 -58 18 942 188)"/><use href="#e" transform="matrix(-17 102 -102 -17 942 188)"/><use href="#e" transform="matrix(117 28 -28 117 942 188)"/><use href="#e" transform="matrix(76 73 -73 76 942 188)"/>
<use href="#e" transform="matrix(-56 18 -18 -56 1178 166)"/><use href="#e" transform="matrix(65 -13 13 65 1178 166)"/><use href="#e" transform="matrix(49 47 -47 49 1178 166)"/>
<use href="#e" transform="matrix(-16 60 -60 -16 1243 153)"/><use href="#e" transform="matrix(57 42 -42 57 1243 153)"/><use href="#e" transform="matrix(164 14 -14 164 1243 153)"/><use href="#e" transform="matrix(113 25 -25 113 1243 153)"/><use href="#e" transform="matrix(-23 119 -119 -23 1243 153)"/><use href="#e" transform="matrix(-121 31 -31 -121 1243 153)"/><use href="#e" transform="matrix(-92 133 -133 -92 1243 153)"/>
<use href="#e" transform="matrix(-51 11 -11 -51 1407 167)"/><use href="#e" transform="matrix(15 61 -61 15 1407 167)"/><use href="#e" transform="matrix(-48 72 -72 -48 1407 167)"/><use href="#e" transform="matrix(40 119 -119 40 1407 167)"/>
<use href="#e" transform="matrix(-56 17 -17 -56 1356 178)"/><use href="#e" transform="matrix(3 61 -61 3 1356 178)"/><use href="#e" transform="matrix(66 50 -50 66 1356 178)"/><use href="#e" transform="matrix(-129 35 -35 -129 1356 178)"/><use href="#e" transform="matrix(-70 70 -70 -70 1356 178)"/><use href="#e" transform="matrix(-136 94 -94 -136 1356 178)"/><use href="#e" transform="matrix(91 108 -108 91 1356 178)"/><use href="#e" transform="matrix(-46 178 -178 -46 1356 178)"/><use href="#e" transform="matrix(1 222 -222 1 1356 178)"/>
<use href="#e" transform="matrix(-73 18 -18 -73 1300 195)"/><use href="#e" transform="matrix(59 44 -44 59 1300 195)"/><use href="#e" transform="matrix(-14 53 -53 -14 1300 195)"/><use href="#e" transform="matrix(-80 77 -77 -80 1300 195)"/><use href="#e" transform="matrix(-35 113 -113 -35 1300 195)"/><use href="#e" transform="matrix(91 97 -97 91 1300 195)"/>
<use href="#e" transform="matrix(-5 54 -54 -5 1122 184)"/><use href="#e" transform="matrix(29 102 -102 29 1122 184)"/><use href="#e" transform="matrix(105 29 -29 105 1122 184)"/><use href="#e" transform="matrix(98 88 -88 98 1122 184)"/><use href="#e" transform="matrix(71 138 -138 71 1122 184)"/><use href="#e" transform="matrix(22 173 -173 22 1122 184)"/><use href="#e" transform="matrix(-63 32 -32 -63 1122 184)"/><use href="#e" transform="matrix(-29 214 -214 -29 1122 184)"/><use href="#e" transform="matrix(78 198 -198 78 1122 184)"/><use href="#e" transform="matrix(164 64 -64 164 1122 184)"/>
<use href="#e" transform="matrix(-7 59 -59 -7 1227 213)"/><use href="#e" transform="matrix(-76 73 -73 -76 1227 213)"/><use href="#e" transform="matrix(59 35 -35 59 1227 213)"/><use href="#e" transform="matrix(38 95 -95 38 1227 213)"/><use href="#e" transform="matrix(-34 109 -109 -34 1227 213)"/><use href="#e" transform="matrix(-83 144 -144 -83 1227 213)"/><use href="#e" transform="matrix(-110 25 -25 -110 1227 213)"/><use href="#e" transform="matrix(16 148 -148 16 1227 213)"/><use href="#e" transform="matrix(-27 169 -169 -27 1227 213)"/><use href="#e" transform="matrix(132 26 -26 132 1227 213)"/><use href="#e" transform="matrix(-125 113 -113 -125 1227 213)"/><use href="#e" transform="matrix(83 143 -143 83 1227 213)"/><use href="#e" transform="matrix(56 197 -197 56 1227 213)"/>
<use href="#e" transform="matrix(53 14 -14 53 1006 202)"/><use href="#e" transform="matrix(-46 44 -44 -46 1006 202)"/><use href="#e" transform="matrix(111 36 -36 111 1006 202)"/><use href="#e" transform="matrix(50 159 -159 50 1006 202)"/>
<use href="#e" transform="matrix(58 22 -22 58 1059 216)"/><use href="#e" transform="matrix(-41 45 -45 -41 1059 216)"/><use href="#e" transform="matrix(20 61 -61 20 1059 216)"/><use href="#e" transform="matrix(-99 30 -30 -99 1059 216)"/><use href="#e" transform="matrix(-28 97 -97 -28 1059 216)"/><use href="#e" transform="matrix(-80 100 -100 -80 1059 216)"/><use href="#e" transform="matrix(92 70 -70 92 1059 216)"/><use href="#e" transform="matrix(-3 145 -145 -3 1059 216)"/><use href="#e" transform="matrix(117 16 -16 117 1059 216)"/><use href="#e" transform="matrix(43 110 -110 43 1059 216)"/>
<use href="#e" transform="matrix(-38 39 -39 -38 1117 238)"/><use href="#e" transform="matrix(34 48 -48 34 1117 238)"/><use href="#e" transform="matrix(-86 75 -75 -86 1117 238)"/><use href="#e" transform="matrix(-15 88 -88 -15 1117 238)"/><use href="#e" transform="matrix(76 84 -84 76 1117 238)"/><use href="#e" transform="matrix(27 119 -119 27 1117 238)"/><use href="#e" transform="matrix(-61 123 -123 -61 1117 238)"/><use href="#e" transform="matrix(-24 160 -160 -24 1117 238)"/><use href="#e" transform="matrix(83 144 -144 83 1117 238)"/><use href="#e" transform="matrix(-157 8 -8 -157 1117 238)"/><use href="#e" transform="matrix(27 179 -179 27 1117 238)"/><use href="#e" transform="matrix(103 34 -34 103 1117 238)"/>
<use href="#e" transform="matrix(-35 44 -44 -35 960 246)"/><use href="#e" transform="matrix(19 70 -70 19 960 246)"/><use href="#e" transform="matrix(74 175 -175 74 960 246)"/>
<use href="#e" transform="matrix(-21 118 -118 -21 1018 261)"/><use href="#e" transform="matrix(126 96 -96 126 1018 261)"/>
<use href="#e" transform="matrix(65 80 -80 65 1079 277)"/><use href="#e" transform="matrix(6 177 -177 6 1079 277)"/><use href="#e" transform="matrix(-154 13 -13 -154 1079 277)"/>
<use href="#e" transform="matrix(54 26 -26 54 925 290)"/><use href="#e" transform="matrix(-2 68 -68 -2 925 290)"/><use href="#e" transform="matrix(26 111 -111 26 925 290)"/><use href="#e" transform="matrix(106 23 -23 106 925 290)"/><use href="#e" transform="matrix(54 163 -163 54 925 290)"/><use href="#e" transform="matrix(109 131 -131 109 925 290)"/><use href="#e" transform="matrix(102 188 -188 102 925 290)"/>
<use href="#e" transform="matrix(69 -14 14 69 1151 286)"/><use href="#e" transform="matrix(-7 71 -71 -7 1151 286)"/><use href="#e" transform="matrix(-58 112 -112 -58 1151 286)"/><use href="#e" transform="matrix(92 75 -75 92 1151 286)"/><use href="#e" transform="matrix(-7 131 -131 -7 1151 286)"/><use href="#e" transform="matrix(-95 75 -75 -95 1151 286)"/><use href="#e" transform="matrix(-66 168 -168 -66 1151 286)"/>
<use href="#e" transform="matrix(66 -24 24 66 1220 272)"/><use href="#e" transform="matrix(45 36 -36 45 1220 272)"/><use href="#e" transform="matrix(-27 50 -50 -27 1220 272)"/><use href="#e" transform="matrix(23 89 -89 23 1220 272)"/><use href="#e" transform="matrix(-76 85 -85 -76 1220 272)"/><use href="#e" transform="matrix(171 20 -20 171 1220 272)"/><use href="#e" transform="matrix(90 84 -84 90 1220 272)"/><use href="#e" transform="matrix(-20 110 -110 -20 1220 272)"/><use href="#e" transform="matrix(63 138 -138 63 1220 272)"/><use href="#e" transform="matrix(-13 160 -160 -13 1220 272)"/>
<use href="#e" transform="matrix(73 -9 9 73 1286 248)"/><use href="#e" transform="matrix(-43 113 -113 -43 1286 248)"/><use href="#e" transform="matrix(82 96 -96 82 1286 248)"/>
<use href="#e" transform="matrix(63 -11 11 63 1359 239)"/><use href="#e" transform="matrix(88 47 -47 88 1359 239)"/><use href="#e" transform="matrix(32 53 -53 32 1359 239)"/><use href="#e" transform="matrix(9 105 -105 9 1359 239)"/><use href="#e" transform="matrix(73 110 -110 73 1359 239)"/>
<use href="#e" transform="matrix(25 58 -58 25 1422 228)"/><use href="#e" transform="matrix(10 121 -121 10 1422 228)"/>
<use href="#e" transform="matrix(-56 6 -6 -56 1447 286)"/><use href="#e" transform="matrix(-15 63 -63 -15 1447 286)"/><use href="#e" transform="matrix(-79 58 -58 -79 1447 286)"/><use href="#e" transform="matrix(-28 120 -120 -28 1447 286)"/><use href="#e" transform="matrix(-90 114 -114 -90 1447 286)"/><use href="#e" transform="matrix(-164 124 -124 -164 1447 286)"/>
<use href="#e" transform="matrix(-23 52 -52 -23 1391 292)"/><use href="#e" transform="matrix(41 57 -57 41 1391 292)"/><use href="#e" transform="matrix(-81 64 -64 -81 1391 292)"/><use href="#e" transform="matrix(28 114 -114 28 1391 292)"/>
<use href="#e" transform="matrix(-22 53 -53 -22 1265 308)"/><use href="#e" transform="matrix(18 102 -102 18 1265 308)"/><use href="#e" transform="matrix(-65 74 -74 -65 1265 308)"/>
<use href="#e" transform="matrix(64 5 -5 64 1368 344)"/><use href="#e" transform="matrix(-58 12 -12 -58 1368 344)"/><use href="#e" transform="matrix(-11 56 -56 -11 1368 344)"/><use href="#e" transform="matrix(51 62 -62 51 1368 344)"/><use href="#e" transform="matrix(-125 17 -17 -125 1368 344)"/>
<use href="#e" transform="matrix(-13 57 -57 -13 1432 349)"/><use href="#e" transform="matrix(-75 51 -51 -75 1432 349)"/><use href="#e" transform="matrix(-43 114 -114 -43 1432 349)"/>
<use href="#e" transform="matrix(-67 5 -5 -67 1310 356)"/><use href="#e" transform="matrix(17 95 -95 17 1310 356)"/><use href="#e" transform="matrix(-46 112 -112 -46 1310 356)"/>
<use href="#e" transform="matrix(62 6 -6 62 1357 400)"/><use href="#e" transform="matrix(-30 51 -51 -30 1357 400)"/><use href="#e" transform="matrix(32 63 -63 32 1357 400)"/><use href="#e" transform="matrix(-93 68 -68 -93 1357 400)"/><use href="#e" transform="matrix(-16 109 -109 -16 1357 400)"/><use href="#e" transform="matrix(-114 -39 39 -114 1357 400)"/>
<use href="#e" transform="matrix(-30 57 -57 -30 1419 406)"/><use href="#e" transform="matrix(-92 45 -45 -92 1419 406)"/>
<use href="#e" transform="matrix(-43 21 -21 -43 1243 361)"/><use href="#e" transform="matrix(40 49 -49 40 1243 361)"/><use href="#e" transform="matrix(-36 71 -71 -36 1243 361)"/><use href="#e" transform="matrix(-99 -4 4 -99 1243 361)"/><use href="#e" transform="matrix(-50 -39 39 -50 1243 361)"/><use href="#e" transform="matrix(-99 56 -56 -99 1243 361)"/><use href="#e" transform="matrix(21 107 -107 21 1243 361)"/><use href="#e" transform="matrix(-150 37 -37 -150 1243 361)"/><use href="#e" transform="matrix(84 90 -90 84 1243 361)"/><use href="#e" transform="matrix(-88 115 -115 -88 1243 361)"/>
<use href="#e" transform="matrix(-49 35 -35 -49 1193 322)"/><use href="#e" transform="matrix(-49 95 -95 -49 1193 322)"/>
<use href="#e" transform="matrix(-71 -13 13 -71 1102 326)"/><use href="#e" transform="matrix(-46 35 -35 -46 1102 326)"/><use href="#e" transform="matrix(42 31 -31 42 1102 326)"/><use href="#e" transform="matrix(-9 72 -72 -9 1102 326)"/><use href="#e" transform="matrix(42 91 -91 42 1102 326)"/><use href="#e" transform="matrix(-68 95 -95 -68 1102 326)"/><use href="#e" transform="matrix(-17 128 -128 -17 1102 326)"/>
<use href="#e" transform="matrix(-52 3 -3 -52 1031 313)"/><use href="#e" transform="matrix(25 48 -48 25 1031 313)"/><use href="#e" transform="matrix(62 85 -85 62 1031 313)"/><use href="#e" transform="matrix(3 108 -108 3 1031 313)"/><use href="#e" transform="matrix(54 141 -141 54 1031 313)"/>
<use href="#e" transform="matrix(-56 42 -42 -56 979 316)"/><use href="#e" transform="matrix(0 137 -137 0 979 316)"/><use href="#e" transform="matrix(114 82 -82 114 979 316)"/>
<use href="#e" transform="matrix(74 21 -21 74 923 358)"/><use href="#e" transform="matrix(28 43 -43 28 923 358)"/><use href="#e" transform="matrix(56 95 -95 56 923 358)"/><use href="#e" transform="matrix(104 120 -120 104 923 358)"/>
<use href="#e" transform="matrix(88 75 -75 88 997 379)"/>
<use href="#e" transform="matrix(-7 57 -57 -7 1034 421)"/><use href="#e" transform="matrix(51 33 -33 51 1034 421)"/><use href="#e" transform="matrix(59 -23 23 59 1034 421)"/><use href="#e" transform="matrix(22 -60 60 22 1034 421)"/><use href="#e" transform="matrix(69 85 -85 69 1034 421)"/><use href="#e" transform="matrix(17 110 -110 17 1034 421)"/><use href="#e" transform="matrix(121 55 -55 121 1034 421)"/><use href="#e" transform="matrix(110 -4 4 110 1034 421)"/><use href="#e" transform="matrix(110 -64 64 110 1034 421)"/>
<use href="#e" transform="matrix(106 1 -1 106 979 453)"/><use href="#e" transform="matrix(114 -55 55 114 979 453)"/><use href="#e" transform="matrix(77 -92 92 77 979 453)"/><use href="#e" transform="matrix(72 78 -78 72 979 453)"/><use href="#e" transform="matrix(124 53 -53 124 979 453)"/><use href="#e" transform="matrix(165 -36 36 165 979 453)"/><use href="#e" transform="matrix(191 83 -83 191 979 453)"/>
<use href="#e" transform="matrix(58 -24 24 58 1027 478)"/><use href="#e" transform="matrix(24 53 -53 24 1027 478)"/><use href="#e" transform="matrix(76 28 -28 76 1027 478)"/><use href="#e" transform="matrix(128 -2 2 128 1027 478)"/><use href="#e" transform="matrix(143 58 -58 143 1027 478)"/><use href="#e" transform="matrix(66 -80 80 66 1027 478)"/><use href="#e" transform="matrix(187 23 -23 187 1027 478)"/><use href="#e" transform="matrix(29 -117 117 29 1027 478)"/><use href="#e" transform="matrix(216 -117 117 216 1027 478)"/><use href="#e" transform="matrix(237 -10 10 237 1027 478)"/>
<use href="#e" transform="matrix(37 37 -37 37 1056 361)"/><use href="#e" transform="matrix(88 -4 4 88 1056 361)"/><use href="#e" transform="matrix(29 93 -93 29 1056 361)"/>
<use href="#e" transform="matrix(-51 41 -41 -51 1144 357)"/><use href="#e" transform="matrix(0 60 -60 0 1144 357)"/><use href="#e" transform="matrix(63 75 -75 63 1144 357)"/><use href="#e" transform="matrix(139 53 -53 139 1144 357)"/><use href="#e" transform="matrix(11 119 -119 11 1144 357)"/>
<use href="#e" transform="matrix(51 19 -19 51 1093 398)"/><use href="#e" transform="matrix(-8 56 -56 -8 1093 398)"/><use href="#e" transform="matrix(62 78 -78 62 1093 398)"/><use href="#e" transform="matrix(10 108 -108 10 1093 398)"/><use href="#e" transform="matrix(-42 133 -133 -42 1093 398)"/>
<use href="#e" transform="matrix(64 86 -86 64 1200 382)"/>
<use href="#e" transform="matrix(-59 37 -37 -59 1144 417)"/><use href="#e" transform="matrix(11 59 -59 11 1144 417)"/><use href="#e" transform="matrix(120 51 -51 120 1144 417)"/><use href="#e" transform="matrix(139 -7 7 139 1144 417)"/><use href="#e" transform="matrix(-41 89 -89 -41 1144 417)"/><use href="#e" transform="matrix(70 84 -84 70 1144 417)"/><use href="#e" transform="matrix(26 119 -119 26 1144 417)"/>
<use href="#e" transform="matrix(57 36 -36 57 1207 432)"/><use href="#e" transform="matrix(120 19 -19 120 1207 432)"/>
<use href="#e" transform="matrix(44 41 -41 44 1283 410)"/><use href="#e" transform="matrix(-19 58 -58 -19 1283 410)"/><use href="#e" transform="matrix(-128 66 -66 -128 1283 410)"/><use href="#e" transform="matrix(58 99 -99 58 1283 410)"/>
<use href="#e" transform="matrix(70 22 -22 70 1085 454)"/><use href="#e" transform="matrix(18 52 -52 18 1085 454)"/><use href="#e" transform="matrix(-34 77 -77 -34 1085 454)"/><use href="#e" transform="matrix(35 105 -105 35 1085 454)"/><use href="#e" transform="matrix(85 82 -82 85 1085 454)"/><use href="#e" transform="matrix(179 14 -14 179 1085 454)"/><use href="#e" transform="matrix(129 47 -47 129 1085 454)"/>
<use href="#e" transform="matrix(109 -8 8 109 1155 476)"/><use href="#e" transform="matrix(-52 30 -30 -52 1155 476)"/><use href="#e" transform="matrix(59 25 -25 59 1155 476)"/><use href="#e" transform="matrix(15 60 -60 15 1155 476)"/><use href="#e" transform="matrix(-104 55 -55 -104 1155 476)"/>
<use href="#e" transform="matrix(-50 33 -33 -50 1264 468)"/><use href="#e" transform="matrix(63 -17 17 63 1264 468)"/><use href="#e" transform="matrix(21 59 -59 21 1264 468)"/><use href="#e" transform="matrix(77 41 -41 77 1264 468)"/><use href="#e" transform="matrix(-28 92 -92 -28 1264 468)"/><use href="#e" transform="matrix(-94 68 -68 -94 1264 468)"/><use href="#e" transform="matrix(-161 38 -38 -161 1264 468)"/>
<use href="#e" transform="matrix(14 58 -58 14 1327 451)"/><use href="#e" transform="matrix(-113 50 -50 -113 1327 451)"/>
<use href="#e" transform="matrix(-52 25 -25 -52 1103 506)"/><use href="#e" transform="matrix(67 30 -30 67 1103 506)"/><use href="#e" transform="matrix(111 -5 5 111 1103 506)"/>
<use href="#e" transform="matrix(119 5 -5 119 1051 531)"/>
<use href="#e" transform="matrix(-50 23 -23 -50 1170 536)"/><use href="#e" transform="matrix(44 -35 35 44 1170 536)"/><use href="#e" transform="matrix(115 -9 9 115 1170 536)"/>
<use href="#e" transform="matrix(127 8 -8 127 1214 501)"/><use href="#e" transform="matrix(106 -223 223 106 1341 509)"/>
</g>
<g id="edges-b-red" class="r">
<use href="#e" transform="matrix(-6 135 -135 -6 1128 49)"/><use href="#e" transform="matrix(95 134 -134 95 1022 104)"/>
<use href="#e" transform="matrix(111 -179 179 111 960 246)"/><use href="#e" transform="matrix(58 15 -15 58 960 246)"/><use href="#e" transform="matrix(119 31 -31 119 960 246)"/><use href="#e" transform="matrix(71 67 -67 71 960 246)"/><use href="#e" transform="matrix(-37 112 -112 -37 960 246)"/><use href="#e" transform="matrix(-9 155 -155 -9 960 246)"/><use href="#e" transform="matrix(19 207 -207 19 960 246)"/>
<use href="#e" transform="matrix(146 -223 223 146 925 290)"/><use href="#e" transform="matrix(72 89 -89 72 925 290)"/><use href="#e" transform="matrix(126 241 -241 126 925 290)"/>
<use href="#e" transform="matrix(-131 100 -100 -131 1358 113)"/><use href="#e" transform="matrix(77 48 -48 77 1101 118)"/>
<use href="#e" transform="matrix(92 125 -125 92 1059 161)"/><use href="#e" transform="matrix(63 23 -23 63 1059 161)"/><use href="#e" transform="matrix(117 71 -71 117 1059 161)"/><use href="#e" transform="matrix(134 161 -161 134 1059 161)"/>
<use href="#e" transform="matrix(137 89 -89 137 942 188)"/><use href="#e" transform="matrix(80 -84 84 80 942 188)"/><use href="#e" transform="matrix(37 128 -128 37 942 188)"/>
<use href="#e" transform="matrix(-2 66 -66 -2 1178 166)"/>
<use href="#e" transform="matrix(54 48 -48 54 1122 184)"/><use href="#e" transform="matrix(-43 93 -93 -43 1122 184)"/><use href="#e" transform="matrix(-104 77 -77 -104 1122 184)"/><use href="#e" transform="matrix(-20 142 -142 -20 1122 184)"/><use href="#e" transform="matrix(-91 129 -129 -91 1122 184)"/><use href="#e" transform="matrix(-116 18 -18 -116 1122 184)"/><use href="#e" transform="matrix(207 108 -108 207 1122 184)"/><use href="#e" transform="matrix(-162 62 -62 -162 1122 184)"/>
<use href="#e" transform="matrix(-51 19 -19 -51 1227 213)"/><use href="#e" transform="matrix(102 79 -79 102 1227 213)"/><use href="#e" transform="matrix(-148 64 -64 -148 1227 213)"/><use href="#e" transform="matrix(195 15 -15 195 1227 213)"/><use href="#e" transform="matrix(-196 100 -100 -196 1227 213)"/>
<use href="#e" transform="matrix(12 59 -59 12 1006 202)"/><use href="#e" transform="matrix(73 75 -75 73 1006 202)"/><use href="#e" transform="matrix(-81 88 -88 -81 1006 202)"/><use href="#e" transform="matrix(-27 114 -114 -27 1006 202)"/><use href="#e" transform="matrix(25 111 -111 25 1006 202)"/><use href="#e" transform="matrix(-83 156 -156 -83 1006 202)"/>
<use href="#e" transform="matrix(-59 6 -6 -59 1176 232)"/><use href="#e" transform="matrix(-25 54 -54 -25 1176 232)"/><use href="#e" transform="matrix(44 40 -40 44 1176 232)"/><use href="#e" transform="matrix(110 16 -16 110 1176 232)"/><use href="#e" transform="matrix(17 90 -90 17 1176 232)"/><use href="#e" transform="matrix(89 76 -76 89 1176 232)"/><use href="#e" transform="matrix(-97 45 -45 -97 1176 232)"/>
<use href="#e" transform="matrix(-99 23 -23 -99 1117 238)"/><use href="#e" transform="matrix(-138 78 -78 -138 1117 238)"/>
<use href="#e" transform="matrix(61 16 -16 61 1018 261)"/><use href="#e" transform="matrix(-39 55 -55 -39 1018 261)"/><use href="#e" transform="matrix(13 52 -52 13 1018 261)"/><use href="#e" transform="matrix(84 65 -65 84 1018 261)"/><use href="#e" transform="matrix(38 100 -100 38 1018 261)"/><use href="#e" transform="matrix(133 25 -25 133 1018 261)"/><use href="#e" transform="matrix(-93 29 -29 -93 1018 261)"/><use href="#e" transform="matrix(75 137 -137 75 1018 261)"/><use href="#e" transform="matrix(16 160 -160 16 1018 261)"/><use href="#e" transform="matrix(175 61 -61 175 1018 261)"/>
<use href="#e" transform="matrix(72 9 -9 72 1079 277)"/><use href="#e" transform="matrix(-48 36 -36 -48 1079 277)"/><use href="#e" transform="matrix(23 49 -49 23 1079 277)"/><use href="#e" transform="matrix(-100 39 -39 -100 1079 277)"/><use href="#e" transform="matrix(114 45 -45 114 1079 277)"/><use href="#e" transform="matrix(-23 84 -84 -23 1079 277)"/><use href="#e" transform="matrix(14 121 -121 14 1079 277)"/><use href="#e" transform="matrix(-45 144 -144 -45 1079 277)"/><use href="#e" transform="matrix(141 -5 5 141 1079 277)"/><use href="#e" transform="matrix(121 105 -105 121 1079 277)"/><use href="#e" transform="matrix(-82 102 -102 -82 1079 277)"/>
<use href="#e" transform="matrix(42 36 -36 42 1151 286)"/><use href="#e" transform="matrix(-49 40 -40 -49 1151 286)"/><use href="#e" transform="matrix(135 -38 38 135 1151 286)"/><use href="#e" transform="matrix(114 22 -22 114 1151 286)"/><use href="#e" transform="matrix(178 6 -6 178 1151 286)"/><use href="#e" transform="matrix(-120 27 -27 -120 1151 286)"/><use href="#e" transform="matrix(49 96 -96 49 1151 286)"/><use href="#e" transform="matrix(56 146 -146 56 1151 286)"/><use href="#e" transform="matrix(159 70 -70 159 1151 286)"/>
<use href="#e" transform="matrix(109 20 -20 109 1220 272)"/>
<use href="#e" transform="matrix(-21 60 -60 -21 1286 248)"/><use href="#e" transform="matrix(43 44 -44 43 1286 248)"/><use href="#e" transform="matrix(105 44 -44 105 1286 248)"/><use href="#e" transform="matrix(24 108 -108 24 1286 248)"/><use href="#e" transform="matrix(-3 162 -162 -3 1286 248)"/><use href="#e" transform="matrix(71 152 -152 71 1286 248)"/>
<use href="#e" transform="matrix(-30 53 -53 -30 1359 239)"/>
<use href="#e" transform="matrix(-31 64 -64 -31 1422 228)"/><use href="#e" transform="matrix(-157 80 -80 -157 1422 228)"/><use href="#e" transform="matrix(-112 128 -128 -112 1422 228)"/><use href="#e" transform="matrix(-65 172 -172 -65 1422 228)"/>
<use href="#e" transform="matrix(-62 0 0 -62 1391 292)"/><use href="#e" transform="matrix(-34 108 -108 -34 1391 292)"/>
<use href="#e" transform="matrix(-64 16 -16 -64 1329 292)"/><use href="#e" transform="matrix(39 52 -52 39 1329 292)"/><use href="#e" transform="matrix(-19 64 -64 -19 1329 292)"/><use href="#e" transform="matrix(-86 69 -69 -86 1329 292)"/><use href="#e" transform="matrix(-46 118 -118 -46 1329 292)"/><use href="#e" transform="matrix(-129 90 -90 -129 1329 292)"/>
<use href="#e" transform="matrix(45 48 -48 45 1265 308)"/><use href="#e" transform="matrix(-72 14 -14 -72 1265 308)"/><use href="#e" transform="matrix(-58 124 -124 -58 1265 308)"/><use href="#e" transform="matrix(103 36 -36 103 1265 308)"/>
<use href="#e" transform="matrix(-85 66 -66 -85 1368 344)"/><use href="#e" transform="matrix(-41 107 -107 -41 1368 344)"/>
<use href="#e" transform="matrix(-27 54 -54 -27 1310 356)"/><use href="#e" transform="matrix(47 44 -44 47 1310 356)"/><use href="#e" transform="matrix(-110 26 -26 -110 1310 356)"/><use href="#e" transform="matrix(-103 76 -76 -103 1310 356)"/>
<use href="#e" transform="matrix(-74 10 -10 -74 1357 400)"/>
<use href="#e" transform="matrix(-91 4 -4 -91 1193 322)"/><use href="#e" transform="matrix(7 60 -60 7 1193 322)"/><use href="#e" transform="matrix(-100 76 -76 -100 1193 322)"/><use href="#e" transform="matrix(14 110 -110 14 1193 322)"/><use href="#e" transform="matrix(-137 39 -39 -137 1193 322)"/><use href="#e" transform="matrix(90 88 -88 90 1193 322)"/><use href="#e" transform="matrix(-162 -9 9 -162 1193 322)"/>
<use href="#e" transform="matrix(98 56 -56 98 1102 326)"/><use href="#e" transform="matrix(-123 -10 10 -123 1102 326)"/><use href="#e" transform="matrix(-105 53 -53 -105 1102 326)"/>
<use href="#e" transform="matrix(113 44 -44 113 1031 313)"/><use href="#e" transform="matrix(-34 66 -66 -34 1031 313)"/><use href="#e" transform="matrix(-108 45 -45 -108 1031 313)"/><use href="#e" transform="matrix(-80 88 -88 -80 1031 313)"/><use href="#e" transform="matrix(-52 140 -140 -52 1031 313)"/>
<use href="#e" transform="matrix(18 63 -63 18 979 316)"/><use href="#e" transform="matrix(-28 85 -85 -28 979 316)"/><use href="#e" transform="matrix(77 45 -45 77 979 316)"/><use href="#e" transform="matrix(55 105 -105 55 979 316)"/><use href="#e" transform="matrix(48 162 -162 48 979 316)"/><use href="#e" transform="matrix(72 215 -215 72 979 316)"/>
<use href="#e" transform="matrix(111 63 -63 111 923 358)"/>
<use href="#e" transform="matrix(-197 -201 201 -197 1120 559)"/><use href="#e" transform="matrix(116 1 -1 116 1120 559)"/>
<use href="#e" transform="matrix(-128 -173 173 -128 1051 531)"/><use href="#e" transform="matrix(69 28 -28 69 1051 531)"/>
<use href="#e" transform="matrix(-46 22 -22 -46 997 379)"/><use href="#e" transform="matrix(37 42 -42 37 997 379)"/><use href="#e" transform="matrix(-18 74 -74 -18 997 379)"/><use href="#e" transform="matrix(30 99 -99 30 997 379)"/><use href="#e" transform="matrix(59 -18 18 59 997 379)"/><use href="#e" transform="matrix(96 19 -19 96 997 379)"/>
<use href="#e" transform="matrix(83 20 -20 83 951 401)"/><use href="#e" transform="matrix(28 52 -52 28 951 401)"/><use href="#e" transform="matrix(76 77 -77 76 951 401)"/><use href="#e" transform="matrix(100 130 -130 100 951 401)"/><use href="#e" transform="matrix(105 -40 40 105 951 401)"/>
<use href="#e" transform="matrix(-55 32 -32 -55 1034 421)"/>
<use href="#e" transform="matrix(48 25 -25 48 979 453)"/><use href="#e" transform="matrix(176 23 -23 176 979 453)"/><use href="#e" transform="matrix(141 106 -106 141 979 453)"/><use href="#e" transform="matrix(165 -96 96 165 979 453)"/>
<use href="#e" transform="matrix(93 81 -81 93 1027 478)"/><use href="#e" transform="matrix(117 -61 61 117 1027 478)"/>
<use href="#e" transform="matrix(88 56 -56 88 1056 361)"/><use href="#e" transform="matrix(144 21 -21 144 1056 361)"/>
<use href="#e" transform="matrix(56 25 -25 56 1144 357)"/><use href="#e" transform="matrix(-59 97 -97 -59 1144 357)"/><use href="#e" transform="matrix(99 4 -4 99 1144 357)"/>
<use href="#e" transform="matrix(107 -16 16 107 1093 398)"/><use href="#e" transform="matrix(114 34 -34 114 1093 398)"/>
<use href="#e" transform="matrix(-56 35 -35 -56 1200 382)"/><use href="#e" transform="matrix(7 50 -50 7 1200 382)"/><use href="#e" transform="matrix(83 28 -28 83 1200 382)"/><use href="#e" transform="matrix(-45 94 -94 -45 1200 382)"/><use href="#e" transform="matrix(-115 72 -72 -115 1200 382)"/>
<use href="#e" transform="matrix(63 15 -15 63 1144 417)"/>
<use href="#e" transform="matrix(76 -22 22 76 1207 432)"/><use href="#e" transform="matrix(-52 44 -44 -52 1207 432)"/><use href="#e" transform="matrix(-122 22 -22 -122 1207 432)"/><use href="#e" transform="matrix(7 69 -69 7 1207 432)"/><use href="#e" transform="matrix(78 95 -95 78 1207 432)"/><use href="#e" transform="matrix(-37 104 -104 -37 1207 432)"/>
<use href="#e" transform="matrix(-69 91 -91 -69 1283 410)"/>
<use href="#e" transform="matrix(-35 83 -83 -35 1155 476)"/><use href="#e" transform="matrix(130 51 -51 130 1155 476)"/>
<use href="#e" transform="matrix(-42 76 -76 -42 1327 451)"/><use href="#e" transform="matrix(17 53 -53 17 1103 506)"/>
<use href="#e" transform="matrix(71 26 -26 71 1214 501)"/><use href="#e" transform="matrix(22 59 -59 22 1214 501)"/><use href="#e" transform="matrix(-49 33 -33 -49 1285 527)"/>
</g>
</g>
<g id="nodes-a">
<g id="a-microcystis"><circle class="cy" cx="372" cy="23" r="3.3"/><text x="376" y="26">Microcystis</text></g>
<g id="a-rhodococcus"><circle class="ac" cx="430" cy="31" r="3.3"/><text x="434" y="34">Rhodococcus</text></g>
<g id="a-planktothrix"><circle class="cy" cx="313" cy="53" r="3.3"/><text class="l" x="309" y="56">Planktothrix</text></g>
<g id="a-cetobacterium"><circle class="fu" cx="476" cy="51" r="3.3"/><text x="480" y="54">Cetobacterium</text></g>
<g id="a-pirellulaceae"><circle class="pl" cx="531" cy="61" r="3.3"/><text x="535" y="64">Pirellulaceae_unidentified_genus</text></g>
<g id="a-gemm1"><circle class="ge" cx="270" cy="77" r="3.3"/><text class="l" x="266" y="80">Gemm-1_unidentified_genus</text></g>
<g id="a-phenylobacterium"><circle class="pr" cx="372" cy="78" r="3.3"/><text x="376" y="81">Phenylobacterium</text></g>
<g id="a-fluviicola"><circle class="ba" cx="432" cy="90" r="3.3"/><text x="436" y="93">Fluviicola</text></g>
<g id="a-ellin6075"><circle class="aci" cx="219" cy="104" r="3.3"/><text class="l" x="215" y="107">Ellin6075_unidentified_genus</text></g>
<g id="a-planktothricoides"><circle class="cy" cx="497" cy="112" r="3.3"/><text x="501" y="115">Planktothricoides</text></g>
<g id="a-comamonadaceae2"><circle class="pr" cx="609" cy="112" r="3.3"/><text x="613" y="115">Comamonadaceae_unidentified_genus_2</text></g>
<g id="a-trebouxiophyceae"><circle class="cy" cx="328" cy="117" r="3.3"/><text x="332" y="120">Trebouxiophyceae_unidentified_genus</text></g>
<g id="a-rubrivivax"><circle class="pr" cx="558" cy="118" r="3.3"/><text x="562" y="121">Rubrivivax</text></g>
<g id="a-mycobacterium"><circle class="ac" cx="386" cy="131" r="3.3"/><text x="390" y="134">Mycobacterium</text></g>
<g id="a-nb1j"><circle class="pr" cx="274" cy="132" r="3.3"/><text class="l" x="270" y="135">NB1-j_unidentified_genus</text></g>
<g id="a-azospira"><circle class="pr" cx="448" cy="141" r="3.3"/><text x="452" y="144">Azospira</text></g>
<g id="a-jg30"><circle class="ch" cx="210" cy="157" r="3.3"/><text class="l" x="206" y="160">JG30-KF-CM45_unidentified_genus</text></g>
<g id="a-a4b"><circle class="pl" cx="527" cy="163" r="3.3"/><text x="531" y="166">A4b_unidentified_genus</text></g>
<g id="a-sphingomonadales"><circle class="pr" cx="631" cy="166" r="3.3"/><text x="635" y="169">Sphingomonadales_unidentified_genus</text></g>
<g id="a-polynucleobacter"><circle class="pr" cx="320" cy="177" r="3.3"/><text x="324" y="180">Polynucleobacter</text></g>
<g id="a-c111"><circle class="ac" cx="579" cy="178" r="3.3"/><text x="583" y="181">C111_unidentified_genus</text></g>
<g id="a-flavobacterium"><circle class="ba" cx="378" cy="183" r="3.3"/><text x="382" y="186">Flavobacterium</text></g>
<g id="a-nitrospira"><circle class="ni" cx="264" cy="188" r="3.3"/><text class="l" x="260" y="191">Nitrospira</text></g>
<g id="a-acinetobacter"><circle class="pr" cx="162" cy="189" r="3.3"/><text class="l" x="158" y="192">Acinetobacter</text></g>
<g id="a-comamonadaceae1"><circle class="pr" cx="436" cy="193" r="3.3"/><text x="440" y="196">Comamonadaceae_unidentified_genus_1</text></g>
<g id="a-cl50015"><circle class="pl" cx="498" cy="200" r="3.3"/><text x="502" y="204">CL500-15_unidentified_genus</text></g>
<g id="a-aeromonadaceae"><circle class="pr" cx="659" cy="204" r="3.3"/><text x="663" y="207">Aeromonadaceae_unidentified_genus</text></g>
<g id="a-mb2424"><circle class="aci" cx="215" cy="222" r="3.3"/><text class="l" x="211" y="225">mb2424_unidentified_genus</text></g>
<g id="a-giesbergeria"><circle class="pr" cx="557" cy="228" r="3.3"/><text x="561" y="230">Giesbergeria</text></g>
<g id="a-acetobacteraceae"><circle class="pr" cx="609" cy="235" r="3.3"/><text x="613" y="238">Acetobacteraceae_unidentified_genus</text></g>
<g id="a-arthronema"><circle class="cy" cx="295" cy="236" r="3.3"/><text class="l" x="291" y="239">Arthronema</text></g>
<g id="a-bacillus"><circle class="fi" cx="351" cy="240" r="3.3"/><text x="355" y="240">Bacillus</text></g>
<g id="a-novosphingobium"><circle class="pr" cx="407" cy="244" r="3.3"/><text class="l" x="403" y="250">Novosphingobium</text></g>
<g id="a-phycisphaerales"><circle class="pl" cx="464" cy="244" r="3.3"/><text x="468" y="247">Phycisphaerales_unidentified_genus</text></g>
<g id="a-cv106"><circle class="ws" cx="144" cy="247" r="3.3"/><text class="l" x="140" y="250">CV106_unidentified_genus</text></g>
<g id="a-hydrogenophaga"><circle class="pr" cx="517" cy="259" r="3.3"/><text x="521" y="262">Hydrogenophaga</text></g>
<g id="a-chitinophagaceae"><circle class="ba" cx="666" cy="261" r="3.3"/><text x="670" y="264">Chitinophagaceae_unidentified_genus</text></g>
<g id="a-xanthomonadaceae"><circle class="pr" cx="258" cy="274" r="3.3"/><text x="262" y="277">Xanthomonadaceae_unidentified_genus</text></g>
<g id="a-piscirickettsiaceae"><circle class="pr" cx="196" cy="275" r="3.3"/><text class="l" x="192" y="278">Piscirickettsiaceae_unidentified_genus</text></g>
<g id="a-saprospiraceae"><circle class="ba" cx="611" cy="287" r="3.3"/><text x="615" y="289">Saprospiraceae_unidentified_genus</text></g>
<g id="a-cryomorphaceae"><circle class="ba" cx="441" cy="296" r="3.3"/><text class="l" x="437" y="295">Cryomorphaceae_unidentified_genus</text></g>
<g id="a-cytophagaceae"><circle class="ba" cx="560" cy="297" r="3.3"/><text x="564" y="300">Cytophagaceae_unidentified_genus</text></g>
<g id="a-clostridium"><circle class="fi" cx="384" cy="299" r="3.3"/><text x="388" y="304">Clostridium</text></g>
<g id="a-rhodobacter"><circle class="pr" cx="494" cy="308" r="3.3"/><text x="498" y="311">Rhodobacter</text></g>
<g id="a-prr10"><circle class="ws" cx="146" cy="309" r="3.3"/><text class="l" x="142" y="312">PRR-10_unidentified_genus</text></g>
<g id="a-hyphomicrobium"><circle class="pr" cx="304" cy="311" r="3.3"/><text x="308" y="314">Hyphomicrobium</text></g>
<g id="a-pseudanabaenaceae"><circle class="cy" cx="671" cy="315" r="3.3"/><text x="675" y="318">Pseudanabaenaceae_unidentified_genus</text></g>
<g id="a-hyphomicrobiaceae"><circle class="pr" cx="222" cy="322" r="3.3"/><text class="l" x="218" y="325">Hyphomicrobiaceae_unidentified_genus</text></g>
<g id="a-actinomycetales"><circle class="ac" cx="616" cy="339" r="3.3"/><text x="620" y="341">Actinomycetales_unidentified_genus</text></g>
<g id="a-cylindrospermopsis"><circle class="cy" cx="350" cy="342" r="3.3"/><text class="l" x="346" y="345">Cylindrospermopsis</text></g>
<g id="a-sphingobacteriaceae"><circle class="ba" cx="544" cy="344" r="3.3"/><text x="548" y="350">Sphingobacteriaceae_unidentified_genus</text></g>
<g id="a-spirobacillales"><circle class="pr" cx="433" cy="349" r="3.3"/><text x="437" y="352">Spirobacillales_unidentified_genus</text></g>
<g id="a-caldilineaceae"><circle class="ch" cx="278" cy="360" r="3.3"/><text x="282" y="363">Caldilineaceae_unidentified_genus</text></g>
<g id="a-caulobacteraceae"><circle class="pr" cx="156" cy="363" r="3.3"/><text class="l" x="152" y="366">Caulobacteraceae_unidentified_genus</text></g>
<g id="a-rhizobiales1"><circle class="pr" cx="487" cy="369" r="3.3"/><text x="491" y="372">Rhizobiales_unidentified_genus_1</text></g>
<g id="a-om60"><circle class="pr" cx="663" cy="369" r="3.3"/><text x="667" y="372">OM60_unidentified_genus</text></g>
<g id="a-acidimicrobiales"><circle class="ac" cx="217" cy="375" r="3.3"/><text class="l" x="213" y="378">Acidimicrobiales_unidentified_genus</text></g>
<g id="a-myxococcales"><circle class="pr" cx="385" cy="384" r="3.3"/><text class="l" x="381" y="387">Myxococcales_unidentified_genus</text></g>
<g id="a-sinobacteraceae"><circle class="pr" cx="590" cy="387" r="3.3"/><text x="594" y="390">Sinobacteraceae_unidentified_genus</text></g>
<g id="a-rhodocyclaceae"><circle class="pr" cx="534" cy="400" r="3.3"/><text x="538" y="403">Rhodocyclaceae_C39</text></g>
<g id="a-synechococcus"><circle class="cy" cx="323" cy="402" r="3.3"/><text x="327" y="405">Synechococcus</text></g>
<g id="a-rhodospirillaceae"><circle class="pr" cx="441" cy="413" r="3.3"/><text x="445" y="416">Rhodospirillaceae_unidentified_genus</text></g>
<g id="a-streptophyta"><circle class="cy" cx="174" cy="418" r="3.3"/><text class="l" x="170" y="421">Streptophyta_unidentified_genus</text></g>
<g id="a-mwhunip1"><circle class="pr" cx="257" cy="418" r="3.3"/><text x="261" y="421">MWH-UniP1_unidentified_genus</text></g>
<g id="a-stramenopiles"><circle class="cy" cx="647" cy="418" r="3.3"/><text x="651" y="421">Stramenopiles_unidentified_genus</text></g>
<g id="a-gemmataceae"><circle class="pl" cx="487" cy="438" r="3.3"/><text x="491" y="441">Gemmataceae_unidentified_genus</text></g>
<g id="a-sci84"><circle class="pr" cx="345" cy="447" r="3.3"/><text class="l" x="341" y="450">SC-I-84_unidentified_genus</text></g>
<g id="a-syntrophobacteraceae"><circle class="pr" cx="560" cy="447" r="3.3"/><text x="564" y="451">Syntrophobacteraceae_unidentified_genus</text></g>
<g id="a-dh61"><circle class="pl" cx="402" cy="448" r="3.3"/><text x="406" y="451">DH61_unidentified_genus</text></g>
<g id="a-rheinheimera"><circle class="pr" cx="207" cy="459" r="3.3"/><text x="211" y="462">Rheinheimera</text></g>
<g id="a-alphaproteobacteria"><circle class="pr" cx="617" cy="465" r="3.3"/><text x="621" y="468">Alphaproteobacteria_unidentified_genus</text></g>
<g id="a-ackm1"><circle class="ac" cx="287" cy="468" r="3.3"/><text x="291" y="471">ACK-M1_unidentified_genus</text></g>
<g id="a-planctomyces"><circle class="pl" cx="522" cy="482" r="3.3"/><text x="526" y="485">Planctomyces</text></g>
<g id="a-alcaligenaceae"><circle class="pr" cx="463" cy="497" r="3.3"/><text x="467" y="498">Alcaligenaceae_unidentified_genus</text></g>
<g id="a-betaproteobacteria"><circle class="pr" cx="408" cy="502" r="3.3"/><text x="412" y="507">Betaproteobacteria_unidentified_genus</text></g>
<g id="a-sphingomonadaceae"><circle class="pr" cx="241" cy="504" r="3.3"/><text class="l" x="237" y="507">Sphingomonadaceae_unidentified_genus</text></g>
<g id="a-rhizobiales2"><circle class="pr" cx="341" cy="505" r="3.3"/><text class="m" x="334" y="516">Rhizobiales_unidentified_genus_2</text></g>
<g id="a-methylibium"><circle class="pr" cx="578" cy="517" r="3.3"/><text x="582" y="520">Methylibium</text></g>
<g id="a-gemmatimonas"><circle class="ge" cx="291" cy="536" r="3.3"/><text class="l" x="287" y="539">Gemmatimonas</text></g>
<g id="a-rhodospirillales"><circle class="pr" cx="521" cy="544" r="3.3"/><text x="525" y="547">Rhodospirillales_unidentified_genus</text></g>
<g id="a-chlamydomonadaceae"><circle class="cy" cx="464" cy="558" r="3.3"/><text x="468" y="561">Chlamydomonadaceae_unidentified_genus</text></g>
<g id="a-methylococcales"><circle class="pr" cx="350" cy="559" r="3.3"/><text class="l" x="346" y="562">Methylococcales_unidentified_genus</text></g>
<g id="a-ralstonia"><circle class="pr" cx="407" cy="564" r="3.3"/><text x="411" y="567">Ralstonia</text></g>
</g>
<g id="nodes-b">
<g id="b-rhodospirillaceae"><circle class="pr" cx="1189" cy="45" r="3.3"/><text class="m" x="1190" y="40">Rhodospirillaceae_unidentified_genus</text></g>
<g id="b-polynucleobacter"><circle class="pr" cx="1128" cy="49" r="3.3"/><text class="l" x="1124" y="52">Polynucleobacter</text></g>
<g id="b-comamonadaceae2"><circle class="pr" cx="1250" cy="49" r="3.3"/><text x="1254" y="52">Comamonadaceae_unidentified_genus_2</text></g>
<g id="b-planktothrix"><circle class="cy" cx="1071" cy="67" r="3.3"/><text class="l" x="1067" y="70">Planktothrix</text></g>
<g id="b-a4b"><circle class="pl" cx="1303" cy="74" r="3.3"/><text x="1307" y="77">A4b_unidentified_genus</text></g>
<g id="b-caldilineaceae"><circle class="ch" cx="1022" cy="104" r="3.3"/><text class="l" x="1018" y="107">Caldilineaceae_unidentified_genus</text></g>
<g id="b-phenylobacterium"><circle class="pr" cx="1160" cy="104" r="3.3"/><text class="l" x="1156" y="107">Phenylobacterium</text></g>
<g id="b-gemmatimonadetes"><circle class="ge" cx="1227" cy="102" r="3.3"/><text x="1231" y="105">Gemmatimonadetes_unidentified_genus</text></g>
<g id="b-bacillus"><circle class="fi" cx="1358" cy="113" r="3.3"/><text x="1362" y="116">Bacillus</text></g>
<g id="b-alcaligenaceae"><circle class="pr" cx="1101" cy="118" r="3.3"/><text x="1105" y="121">Alcaligenaceae_unidentified_genus</text></g>
<g id="b-cytophagaceae"><circle class="ba" cx="1300" cy="133" r="3.3"/><text x="1304" y="136">Cytophagaceae_unidentified_genus</text></g>
<g id="b-acinetobacter"><circle class="pr" cx="979" cy="139" r="3.3"/><text class="l" x="975" y="142">Acinetobacter</text></g>
<g id="b-comamonadaceae1"><circle class="pr" cx="1243" cy="153" r="3.3"/><text x="1247" y="156">Comamonadaceae_unidentified_genus_1</text></g>
<g id="b-piscirickettsiaceae"><circle class="pr" cx="1059" cy="161" r="3.3"/><text class="l" x="1055" y="164">Piscirickettsiaceae_unidentified_genus</text></g>
<g id="b-cv106"><circle class="ws" cx="1178" cy="166" r="3.3"/><text x="1182" y="169">CV106_unidentified_genus</text></g>
<g id="b-alphaproteobacteria"><circle class="pr" cx="1407" cy="167" r="3.3"/><text x="1411" y="170">Alphaproteobacteria_unidentified_genus</text></g>
<g id="b-mycobacterium"><circle class="ac" cx="1356" cy="178" r="3.3"/><text x="1360" y="181">Mycobacterium</text></g>
<g id="b-pseudanabaenaceae"><circle class="cy" cx="1122" cy="184" r="3.3"/><text x="1126" y="187">Pseudanabaenaceae_unidentified_genus</text></g>
<g id="b-betaproteobacteria"><circle class="pr" cx="942" cy="188" r="3.3"/><text class="l" x="938" y="191">Betaproteobacteria_unidentified_genus</text></g>
<g id="b-acetobacteraceae"><circle class="pr" cx="1300" cy="195" r="3.3"/><text x="1304" y="198">Acetobacteraceae_unidentified_genus</text></g>
<g id="b-sinobacteraceae"><circle class="pr" cx="1006" cy="202" r="3.3"/><text class="l" x="1002" y="205">Sinobacteraceae_unidentified_genus</text></g>
<g id="b-chitinophagaceae"><circle class="ba" cx="1227" cy="213" r="3.3"/><text x="1231" y="216">Chitinophagaceae_unidentified_genus</text></g>
<g id="b-om60"><circle class="pr" cx="1059" cy="216" r="3.3"/><text class="l" x="1055" y="219">OM60_unidentified_genus</text></g>
<g id="b-prr10"><circle class="ws" cx="1422" cy="228" r="3.3"/><text x="1426" y="231">PRR-10_unidentified_genus</text></g>
<g id="b-microcystis"><circle class="cy" cx="1176" cy="232" r="3.3"/><text x="1180" y="235">Microcystis</text></g>
<g id="b-nb1j"><circle class="pr" cx="1117" cy="238" r="3.3"/><text class="l" x="1113" y="241">NB1-j_unidentified_genus</text></g>
<g id="b-rhizobiales1"><circle class="pr" cx="1359" cy="239" r="3.3"/><text x="1363" y="242">Rhizobiales_unidentified_genus_1</text></g>
<g id="b-sci84"><circle class="pr" cx="960" cy="246" r="3.3"/><text class="l" x="956" y="249">SC-I-84_unidentified_genus</text></g>
<g id="b-gemmataceae"><circle class="ni" cx="1286" cy="248" r="3.3"/><text x="1290" y="251">Gemmataceae_unidentified_genus</text></g>
<g id="b-planctomyces"><circle class="ni" cx="1018" cy="261" r="3.3"/><text class="l" x="1014" y="264">Planctomyces</text></g>
<g id="b-cryomorphaceae"><circle class="ba" cx="1220" cy="272" r="3.3"/><text x="1224" y="275">Cryomorphaceae_unidentified_genus</text></g>
<g id="b-phycisphaerales"><circle class="ni" cx="1079" cy="277" r="3.3"/><text class="l" x="1075" y="280">Phycisphaerales_unidentified_genus</text></g>
<g id="b-acidimicrobiales"><circle class="ac" cx="1447" cy="286" r="3.3"/><text x="1451" y="289">Acidimicrobiales_unidentified_genus</text></g>
<g id="b-trebouxiophyceae"><circle class="cy" cx="1151" cy="286" r="3.3"/><text x="1155" y="288">Trebouxiophyceae_unidentified_genus</text></g>
<g id="b-c111"><circle class="ac" cx="925" cy="290" r="3.3"/><text class="l" x="921" y="293">C111_unidentified_genus</text></g>
<g id="b-chlamydomonadaceae"><circle class="cy" cx="1329" cy="292" r="3.3"/><text class="l" x="1325" y="298">Chlamydomonadaceae_unidentified_genus</text></g>
<g id="b-jg30"><circle class="ch" cx="1391" cy="292" r="3.3"/><text x="1395" y="297">JG30-KF-CM45_unidentified_genus</text></g>
<g id="b-planktothricoides"><circle class="cy" cx="1265" cy="308" r="3.3"/><text x="1269" y="311">Planktothricoides</text></g>
<g id="b-sphingomonadales"><circle class="pr" cx="1031" cy="313" r="3.3"/><text x="1035" y="316">Sphingomonadales_unidentified_genus</text></g>
<g id="b-xanthomonadaceae"><circle class="pr" cx="979" cy="316" r="3.3"/><text class="m" x="971" y="327">Xanthomonadaceae_unidentified_genus</text></g>
<g id="b-nitrospira"><circle class="ni" cx="1193" cy="322" r="3.3"/><text x="1197" y="325">Nitrospira</text></g>
<g id="b-novosphingobium"><circle class="pr" cx="1102" cy="326" r="3.3"/><text x="1106" y="329">Novosphingobium</text></g>
<g id="b-opb56"><circle class="chb" cx="1368" cy="344" r="3.3"/><text x="1372" y="346">OPB56_unidentified_genus</text></g>
<g id="b-rubrivivax"><circle class="pr" cx="1432" cy="349" r="3.3"/><text x="1436" y="354">Rubrivivax</text></g>
<g id="b-solibacterales"><circle class="aci" cx="1310" cy="356" r="3.3"/><text x="1314" y="359">Solibacterales_unidentified_genus</text></g>
<g id="b-saprospiraceae"><circle class="ba" cx="1144" cy="357" r="3.3"/><text x="1148" y="357">Saprospiraceae_unidentified_genus</text></g>
<g id="b-ralstonia"><circle class="pr" cx="923" cy="358" r="3.3"/><text class="l" x="919" y="361">Ralstonia</text></g>
<g id="b-azospira"><circle class="pr" cx="1056" cy="361" r="3.3"/><text x="1060" y="364">Azospira</text></g>
<g id="b-gemmatimonas"><circle class="ge" cx="1243" cy="361" r="3.3"/><text x="1247" y="365">Gemmatimonas</text></g>
<g id="b-dh61"><circle class="ni" cx="997" cy="379" r="3.3"/><text class="l" x="993" y="382">DH61_unidentified_genus</text></g>
<g id="b-arthronema"><circle class="cy" cx="1200" cy="382" r="3.3"/><text x="1204" y="385">Arthronema</text></g>
<g id="b-gemm1"><circle class="ge" cx="1093" cy="398" r="3.3"/><text x="1097" y="401">Gemm-1_unidentified_genus</text></g>
<g id="b-actinomycetales"><circle class="ac" cx="1357" cy="400" r="3.3"/><text x="1361" y="400">Actinomycetales_unidentified_genus</text></g>
<g id="b-pirellulaceae"><circle class="ni" cx="951" cy="401" r="3.3"/><text class="l" x="947" y="404">Pirellulaceae_unidentified_genus</text></g>
<g id="b-rhodospirillales"><circle class="pr" cx="1419" cy="406" r="3.3"/><text x="1423" y="410">Rhodospirillales_unidentified_genus</text></g>
<g id="b-cl50015"><circle class="ni" cx="1283" cy="410" r="3.3"/><text x="1287" y="414">CL500-15_unidentified_genus</text></g>
<g id="b-sphingomonadaceae"><circle class="pr" cx="1144" cy="417" r="3.3"/><text x="1148" y="420">Sphingomonadaceae_unidentified_genus</text></g>
<g id="b-aeromonadaceae"><circle class="pr" cx="1034" cy="421" r="3.3"/><text class="l" x="1030" y="424">Aeromonadaceae_unidentified_genus</text></g>
<g id="b-synechococcus"><circle class="cy" cx="1207" cy="432" r="3.3"/><text x="1211" y="435">Synechococcus</text></g>
<g id="b-clostridium"><circle class="fi" cx="1327" cy="451" r="3.3"/><text x="1331" y="454">Clostridium</text></g>
<g id="b-hyphomicrobiaceae"><circle class="pr" cx="979" cy="453" r="3.3"/><text class="l" x="975" y="456">Hyphomicrobiaceae_unidentified_genus</text></g>
<g id="b-spirobacillales"><circle class="pr" cx="1085" cy="454" r="3.3"/><text x="1089" y="457">Spirobacillales_unidentified_genus</text></g>
<g id="b-methylococcales"><circle class="pr" cx="1389" cy="463" r="3.3"/><text x="1393" y="466">Methylococcales_unidentified_genus</text></g>
<g id="b-hydrogenophaga"><circle class="pr" cx="1264" cy="468" r="3.3"/><text x="1268" y="471">Hydrogenophaga</text></g>
<g id="b-rhodobacter"><circle class="pr" cx="1155" cy="476" r="3.3"/><text x="1159" y="479">Rhodobacter</text></g>
<g id="b-rhizobiales2"><circle class="pr" cx="1027" cy="478" r="3.3"/><text class="l" x="1023" y="481">Rhizobiales_unidentified_genus_2</text></g>
<g id="b-hyphomicrobium"><circle class="pr" cx="1214" cy="501" r="3.3"/><text x="1218" y="504">Hyphomicrobium</text></g>
<g id="b-cetobacterium"><circle class="fu" cx="1103" cy="506" r="3.3"/><text x="1107" y="509">Cetobacterium</text></g>
<g id="b-methylibium"><circle class="pr" cx="1341" cy="509" r="3.3"/><text x="1345" y="512">Methylibium</text></g>
<g id="b-sphingobacteriales"><circle class="ba" cx="1285" cy="527" r="3.3"/><text x="1289" y="530">Sphingobacteriales_unidentified_genus</text></g>
<g id="b-myxococcales"><circle class="pr" cx="1051" cy="531" r="3.3"/><text class="l" x="1047" y="534">Myxococcales_unidentified_genus</text></g>
<g id="b-rhodococcus"><circle class="ac" cx="1170" cy="536" r="3.3"/><text x="1174" y="539">Rhodococcus</text></g>
<g id="b-stramenopiles"><circle class="cy" cx="1120" cy="559" r="3.3"/><text class="l" x="1116" y="562">Stramenopiles_unidentified_genus</text></g>
<g id="b-ellin6075"><circle class="aci" cx="1236" cy="560" r="3.3"/><text x="1240" y="563">Ellin6075_unidentified_genus</text></g>
</g>
<g id="legend" class="leg">
<circle class="pr" cx="1625" cy="46" r="8"/><text x="1644" y="51">Proteobacteria</text>
<circle class="cy" cx="1625" cy="71" r="8"/><text x="1644" y="76">Cyanobacteria</text>
<circle class="ba" cx="1625" cy="98" r="8"/><text x="1644" y="103">Bacteroidetes</text>
<circle class="ac" cx="1625" cy="124" r="8"/><text x="1644" y="129">Actinobacteria</text>
<circle class="pl" cx="1625" cy="151" r="8"/><text x="1644" y="156">Ploroflexi</text>
<circle class="fi" cx="1625" cy="176" r="8"/><text x="1644" y="181">Firmicutes</text>
<circle class="ge" cx="1625" cy="202" r="8"/><text x="1644" y="207">Gemmatimonadetes</text>
<circle class="aci" cx="1625" cy="228" r="8"/><text x="1644" y="233">Acidobacteria</text>
<circle class="ws" cx="1625" cy="254" r="8"/><text x="1644" y="259">WS3</text>
<circle class="fu" cx="1625" cy="279" r="8"/><text x="1644" y="284">Fusobacteria</text>
<circle class="ni" cx="1625" cy="305" r="8"/><text x="1644" y="310">Nitlospirae</text>
<circle class="ch" cx="1625" cy="331" r="8"/><text x="1644" y="336">chloroflex</text>
<circle class="chb" cx="1625" cy="358" r="8"/><text x="1644" y="363">chlorobi</text>
</g>
</svg>
